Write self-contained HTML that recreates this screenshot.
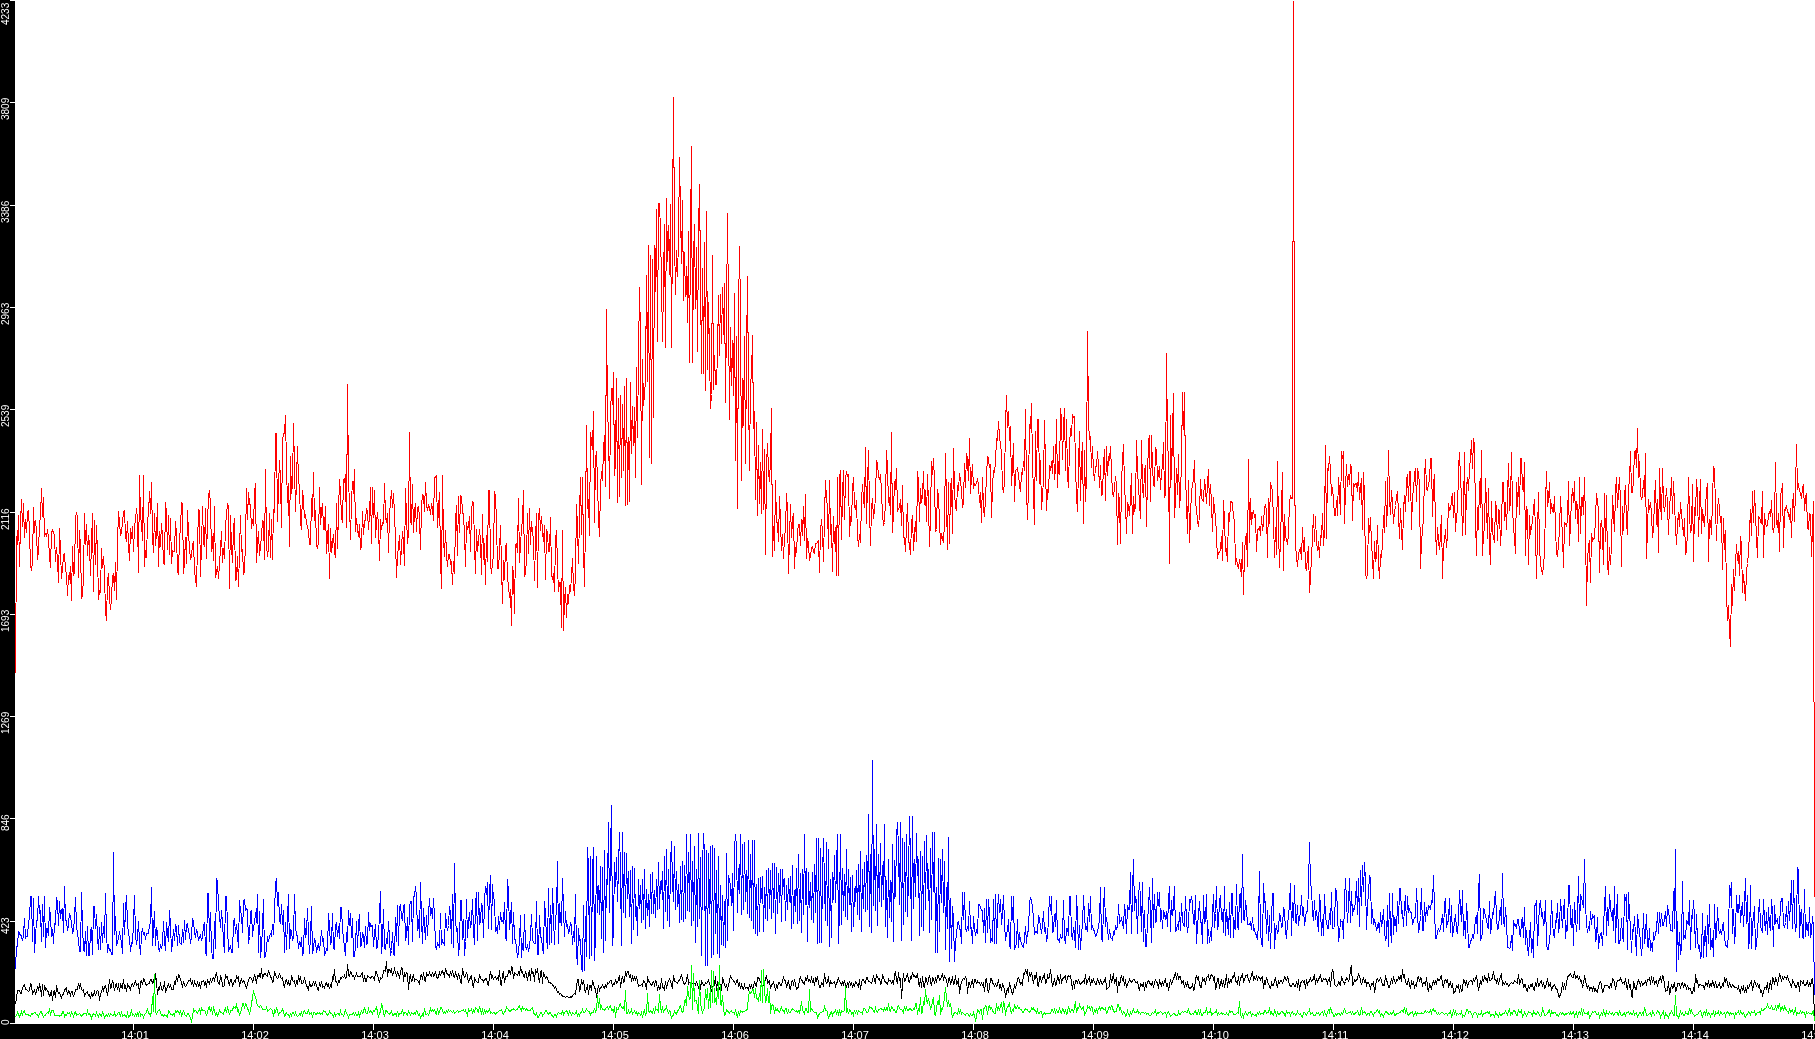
<!DOCTYPE html>
<html><head><meta charset="utf-8"><title>chart</title>
<style>
html,body{margin:0;padding:0;background:#fff;}
body{width:1815px;height:1039px;position:relative;overflow:hidden;font-family:"Liberation Sans",sans-serif;}
#left{position:absolute;left:0;top:0;width:15px;height:1039px;background:#000;}
#bottom{position:absolute;left:0;top:1024px;width:1815px;height:15px;background:#000;}
.yt{position:absolute;left:10px;width:5px;height:1px;background:#fff;}
.xt{position:absolute;top:1024px;width:1px;height:6px;background:#fff;}
.yl{position:absolute;left:0;width:0;height:0;color:#fff;font-size:10px;line-height:10px;white-space:nowrap;}
.yl span{will-change:transform;position:absolute;left:0;top:0;transform-origin:0 0;transform:rotate(-90deg);display:block;}
.xl{will-change:transform;position:absolute;top:1030px;width:40px;text-align:center;color:#fff;font-size:11px;line-height:11px;white-space:nowrap;}
</style></head><body>
<div id="left"></div><div id="bottom"></div>
<svg width="1800" height="1024" viewBox="15 0 1800 1024" shape-rendering="crispEdges" style="position:absolute;left:15px;top:0">
<polyline fill="none" stroke="#ff0000" stroke-width="1" points="15.5,673.5 16.5,536.5 17.5,544.5 18.5,515.4 19.5,566.5 20.5,524.3 21.5,499.1 22.5,527.0 23.5,503.1 24.5,538.4 25.5,519.2 26.5,532.6 27.5,512.9 28.5,509.7 29.5,531.7 30.5,564.9 31.5,570.5 32.5,561.7 33.5,507.2 34.5,533.4 35.5,519.6 36.5,531.3 37.5,559.7 38.5,550.4 39.5,523.9 40.5,517.0 41.5,488.3 42.5,516.5 43.5,497.2 44.5,537.3 45.5,533.2 46.5,536.9 47.5,528.7 48.5,539.3 49.5,556.2 50.5,567.8 51.5,531.4 52.5,530.2 53.5,532.7 54.5,535.8 55.5,562.4 56.5,546.8 57.5,560.2 58.5,582.7 59.5,528.2 60.5,551.1 61.5,578.6 62.5,567.8 63.5,556.4 64.5,552.7 65.5,570.5 66.5,573.9 67.5,595.7 68.5,575.5 69.5,579.7 70.5,565.6 71.5,601.0 72.5,546.3 73.5,576.4 74.5,571.6 75.5,518.1 76.5,512.6 77.5,517.0 78.5,578.2 79.5,530.1 80.5,547.6 81.5,597.5 82.5,595.7 83.5,577.0 84.5,512.6 85.5,545.1 86.5,524.0 87.5,556.1 88.5,535.1 89.5,544.5 90.5,576.4 91.5,542.9 92.5,512.6 93.5,592.1 94.5,520.5 95.5,565.0 96.5,524.7 97.5,552.8 98.5,600.2 99.5,590.8 100.5,593.0 101.5,548.4 102.5,567.9 103.5,555.6 104.5,574.2 105.5,611.1 106.5,621.2 107.5,580.7 108.5,573.2 109.5,598.1 110.5,609.7 111.5,598.9 112.5,576.0 113.5,574.0 114.5,591.0 115.5,562.1 116.5,600.2 117.5,544.1 118.5,510.7 119.5,522.2 120.5,534.9 121.5,533.7 122.5,521.0 123.5,512.4 124.5,509.9 125.5,536.2 126.5,542.1 127.5,520.7 128.5,544.2 129.5,561.1 130.5,528.5 131.5,538.5 132.5,525.8 133.5,552.4 134.5,525.7 135.5,519.8 136.5,507.7 137.5,519.2 138.5,573.2 139.5,475.4 140.5,516.6 141.5,523.5 142.5,540.7 143.5,475.4 144.5,566.9 145.5,549.6 146.5,558.4 147.5,521.6 148.5,513.0 149.5,491.4 150.5,514.2 151.5,481.6 152.5,536.9 153.5,553.3 154.5,513.2 155.5,546.4 156.5,532.7 157.5,503.1 158.5,566.5 159.5,531.2 160.5,546.9 161.5,522.7 162.5,536.0 163.5,563.1 164.5,563.9 165.5,501.8 166.5,513.3 167.5,549.5 168.5,514.8 169.5,554.5 170.5,518.4 171.5,563.8 172.5,550.8 173.5,551.6 174.5,551.9 175.5,520.8 176.5,534.6 177.5,571.3 178.5,574.6 179.5,536.0 180.5,529.9 181.5,501.8 182.5,504.4 183.5,574.2 184.5,562.2 185.5,537.0 186.5,563.6 187.5,509.9 188.5,533.7 189.5,547.4 190.5,559.9 191.5,556.8 192.5,544.2 193.5,542.4 194.5,570.5 195.5,579.6 196.5,586.7 197.5,545.8 198.5,509.7 199.5,510.3 200.5,576.6 201.5,545.9 202.5,505.8 203.5,542.7 204.5,546.8 205.5,508.3 206.5,558.6 207.5,521.9 208.5,495.9 209.5,490.5 210.5,504.4 211.5,552.2 212.5,535.9 213.5,561.1 214.5,505.7 215.5,578.0 216.5,572.6 217.5,565.9 218.5,578.6 219.5,563.8 220.5,548.6 221.5,531.4 222.5,563.4 223.5,547.6 224.5,558.8 225.5,525.2 226.5,515.8 227.5,503.1 228.5,506.8 229.5,588.9 230.5,514.7 231.5,546.8 232.5,562.5 233.5,528.0 234.5,518.3 235.5,581.2 236.5,578.0 237.5,556.2 238.5,586.7 239.5,551.1 240.5,515.3 241.5,552.4 242.5,549.0 243.5,574.9 244.5,570.8 245.5,542.2 246.5,488.3 247.5,519.7 248.5,492.0 249.5,503.2 250.5,505.6 251.5,529.1 252.5,519.0 253.5,525.9 254.5,494.3 255.5,482.9 256.5,563.0 257.5,543.5 258.5,531.4 259.5,555.9 260.5,546.2 261.5,536.9 262.5,520.0 263.5,522.8 264.5,559.7 265.5,469.4 266.5,543.6 267.5,557.3 268.5,546.3 269.5,513.1 270.5,557.6 271.5,519.4 272.5,559.7 273.5,508.9 274.5,513.2 275.5,433.1 276.5,433.1 277.5,521.7 278.5,487.5 279.5,459.8 280.5,478.6 281.5,528.2 282.5,439.8 283.5,433.5 284.5,433.6 285.5,415.5 286.5,466.0 287.5,503.1 288.5,482.7 289.5,547.1 290.5,456.2 291.5,494.4 292.5,483.7 293.5,423.1 294.5,466.2 295.5,512.1 296.5,479.2 297.5,446.5 298.5,480.4 299.5,486.4 300.5,521.9 301.5,530.1 302.5,489.6 303.5,500.1 304.5,518.4 305.5,514.1 306.5,524.4 307.5,526.3 308.5,531.3 309.5,544.4 310.5,544.9 311.5,497.7 312.5,516.9 313.5,472.1 314.5,520.8 315.5,510.5 316.5,544.4 317.5,549.0 318.5,541.8 319.5,487.0 320.5,525.2 321.5,510.9 322.5,502.8 323.5,529.0 324.5,529.4 325.5,505.8 326.5,553.5 327.5,535.1 328.5,524.3 329.5,578.6 330.5,527.9 331.5,553.2 332.5,543.1 333.5,533.7 334.5,552.0 335.5,558.4 336.5,503.0 337.5,548.5 338.5,512.6 339.5,478.9 340.5,493.1 341.5,516.9 342.5,522.9 343.5,478.9 344.5,481.4 345.5,474.4 346.5,528.3 347.5,384.5 348.5,482.5 349.5,502.2 350.5,539.5 351.5,500.3 352.5,481.5 353.5,494.4 354.5,468.9 355.5,532.1 356.5,517.6 357.5,529.4 358.5,537.3 359.5,524.5 360.5,550.3 361.5,545.2 362.5,511.2 363.5,535.1 364.5,521.5 365.5,519.8 366.5,508.0 367.5,511.8 368.5,530.0 369.5,515.2 370.5,487.0 371.5,543.6 372.5,487.0 373.5,518.3 374.5,490.3 375.5,538.2 376.5,523.0 377.5,511.7 378.5,525.8 379.5,561.1 380.5,519.5 381.5,529.8 382.5,521.7 383.5,524.3 384.5,482.9 385.5,516.8 386.5,523.2 387.5,513.2 388.5,553.0 389.5,514.0 390.5,502.8 391.5,489.7 392.5,507.7 393.5,492.8 394.5,514.6 395.5,538.8 396.5,578.1 397.5,556.1 398.5,546.9 399.5,534.8 400.5,565.0 401.5,546.8 402.5,531.4 403.5,542.0 404.5,565.6 405.5,487.7 406.5,515.7 407.5,543.6 408.5,532.2 409.5,432.5 410.5,520.5 411.5,524.9 412.5,483.7 413.5,533.3 414.5,510.8 415.5,503.4 416.5,532.1 417.5,507.2 418.5,506.8 419.5,517.1 420.5,550.3 421.5,506.1 422.5,493.7 423.5,496.4 424.5,511.7 425.5,481.7 426.5,504.1 427.5,511.1 428.5,504.2 429.5,507.6 430.5,515.0 431.5,502.6 432.5,509.4 433.5,520.7 434.5,477.5 435.5,477.9 436.5,474.8 437.5,528.3 438.5,507.7 439.5,492.0 440.5,558.5 441.5,589.4 442.5,474.8 443.5,539.9 444.5,556.8 445.5,530.1 446.5,554.0 447.5,567.1 448.5,554.2 449.5,554.6 450.5,563.6 451.5,561.4 452.5,585.4 453.5,560.6 454.5,573.8 455.5,522.3 456.5,504.6 457.5,555.7 458.5,495.6 459.5,532.9 460.5,495.6 461.5,496.8 462.5,511.5 463.5,515.3 464.5,533.3 465.5,566.5 466.5,522.1 467.5,530.1 468.5,526.6 469.5,516.4 470.5,551.6 471.5,510.4 472.5,501.8 473.5,502.1 474.5,545.2 475.5,574.4 476.5,529.2 477.5,552.1 478.5,541.1 479.5,529.0 480.5,540.4 481.5,574.6 482.5,513.9 483.5,559.8 484.5,543.4 485.5,585.4 486.5,534.7 487.5,561.9 488.5,490.5 489.5,490.5 490.5,564.8 491.5,573.9 492.5,562.1 493.5,556.7 494.5,490.7 495.5,496.4 496.5,521.4 497.5,568.5 498.5,568.3 499.5,551.9 500.5,524.6 501.5,564.6 502.5,604.2 503.5,559.9 504.5,579.7 505.5,545.9 506.5,543.6 507.5,578.4 508.5,584.9 509.5,597.8 510.5,589.0 511.5,626.3 512.5,565.9 513.5,573.3 514.5,614.2 515.5,545.3 516.5,544.0 517.5,552.8 518.5,498.5 519.5,562.8 520.5,544.7 521.5,528.7 522.5,520.5 523.5,489.7 524.5,575.9 525.5,574.4 526.5,557.7 527.5,512.6 528.5,553.6 529.5,508.5 530.5,544.7 531.5,521.3 532.5,532.8 533.5,539.4 534.5,581.3 535.5,540.7 536.5,513.0 537.5,588.0 538.5,516.9 539.5,508.5 540.5,531.1 541.5,516.3 542.5,531.3 543.5,541.8 544.5,525.2 545.5,580.4 546.5,529.5 547.5,532.4 548.5,551.9 549.5,551.7 550.5,517.4 551.5,574.4 552.5,580.0 553.5,572.6 554.5,592.1 555.5,540.1 556.5,529.6 557.5,565.1 558.5,592.3 559.5,582.5 560.5,582.1 561.5,627.7 562.5,529.6 563.5,631.2 564.5,600.6 565.5,586.7 566.5,617.7 567.5,594.4 568.5,604.3 569.5,584.8 570.5,592.2 571.5,575.3 572.5,558.4 573.5,586.5 574.5,595.7 575.5,573.7 576.5,504.4 577.5,527.4 578.5,563.7 579.5,513.8 580.5,477.5 581.5,534.8 582.5,477.5 583.5,549.8 584.5,586.7 585.5,519.8 586.5,425.5 587.5,508.6 588.5,498.9 589.5,535.5 590.5,432.2 591.5,441.0 592.5,450.3 593.5,410.7 594.5,523.4 595.5,459.4 596.5,450.7 597.5,482.6 598.5,519.1 599.5,536.5 600.5,487.1 601.5,471.2 602.5,480.6 603.5,448.9 604.5,435.5 605.5,486.5 606.5,309.5 607.5,420.7 608.5,423.0 609.5,498.5 610.5,416.2 611.5,387.6 612.5,404.6 613.5,372.5 614.5,475.6 615.5,463.7 616.5,378.5 617.5,502.5 618.5,397.9 619.5,496.9 620.5,395.2 621.5,477.9 622.5,404.1 623.5,470.8 624.5,385.9 625.5,505.5 626.5,378.5 627.5,505.2 628.5,436.9 629.5,501.9 630.5,381.7 631.5,453.5 632.5,406.0 633.5,446.3 634.5,407.1 635.5,477.7 636.5,367.1 637.5,438.3 638.5,356.0 639.5,287.5 640.5,335.5 641.5,484.5 642.5,358.7 643.5,406.2 644.5,395.0 645.5,379.9 646.5,275.1 647.5,382.1 648.5,245.5 649.5,457.8 650.5,255.2 651.5,463.5 652.5,259.0 653.5,417.5 654.5,245.5 655.5,291.5 656.5,209.5 657.5,341.5 658.5,203.5 659.5,203.5 660.5,230.8 661.5,281.3 662.5,341.5 663.5,283.8 664.5,224.5 665.5,347.5 666.5,198.5 667.5,262.0 668.5,225.0 669.5,275.4 670.5,204.4 671.5,347.5 672.5,223.9 673.5,97.5 674.5,235.5 675.5,294.8 676.5,250.0 677.5,277.3 678.5,239.0 679.5,157.5 680.5,212.6 681.5,263.5 682.5,200.5 683.5,300.5 684.5,252.1 685.5,296.8 686.5,265.9 687.5,323.0 688.5,231.3 689.5,362.5 690.5,233.4 691.5,146.5 692.5,362.5 693.5,259.6 694.5,223.6 695.5,308.5 696.5,246.8 697.5,351.6 698.5,232.5 699.5,184.5 700.5,276.0 701.5,373.5 702.5,268.0 703.5,373.5 704.5,241.7 705.5,391.2 706.5,211.5 707.5,369.5 708.5,302.0 709.5,351.8 710.5,408.5 711.5,394.5 712.5,255.5 713.5,389.9 714.5,354.9 715.5,384.5 716.5,384.5 717.5,353.5 718.5,295.3 719.5,355.7 720.5,294.5 721.5,344.3 722.5,286.8 723.5,335.0 724.5,283.5 725.5,402.8 726.5,317.4 727.5,213.5 728.5,311.9 729.5,419.5 730.5,327.3 731.5,385.6 732.5,339.6 733.5,396.1 734.5,293.5 735.5,460.5 736.5,335.8 737.5,508.5 738.5,312.5 739.5,246.5 740.5,309.5 741.5,480.5 742.5,378.1 743.5,425.5 744.5,336.4 745.5,464.2 746.5,355.8 747.5,276.5 748.5,387.5 749.5,470.5 750.5,381.5 751.5,375.7 752.5,335.5 753.5,429.1 754.5,411.4 755.5,500.2 756.5,422.5 757.5,515.5 758.5,444.7 759.5,504.1 760.5,462.5 761.5,514.4 762.5,428.9 763.5,510.2 764.5,448.9 765.5,554.6 766.5,465.5 767.5,443.0 768.5,470.8 769.5,481.9 770.5,459.2 771.5,408.5 772.5,556.5 773.5,526.4 774.5,551.0 775.5,480.5 776.5,522.5 777.5,522.8 778.5,542.3 779.5,496.2 780.5,521.6 781.5,551.1 782.5,533.8 783.5,558.5 784.5,536.6 785.5,530.6 786.5,493.5 787.5,510.8 788.5,573.5 789.5,538.2 790.5,504.5 791.5,537.8 792.5,520.3 793.5,512.6 794.5,568.5 795.5,547.2 796.5,552.5 797.5,532.5 798.5,524.5 799.5,524.9 800.5,546.4 801.5,518.7 802.5,535.6 803.5,506.5 804.5,540.7 805.5,494.5 806.5,559.1 807.5,538.1 808.5,544.5 809.5,560.5 810.5,555.4 811.5,548.7 812.5,545.7 813.5,552.0 814.5,553.4 815.5,543.5 816.5,543.9 817.5,541.6 818.5,541.0 819.5,572.5 820.5,530.6 821.5,519.3 822.5,531.4 823.5,561.8 824.5,515.5 825.5,480.5 826.5,499.4 827.5,507.2 828.5,549.2 829.5,480.5 830.5,535.0 831.5,524.1 832.5,571.5 833.5,516.3 834.5,544.1 835.5,527.1 836.5,575.5 837.5,477.5 838.5,575.5 839.5,477.7 840.5,470.5 841.5,539.9 842.5,494.6 843.5,470.5 844.5,520.2 845.5,478.1 846.5,471.5 847.5,476.2 848.5,475.2 849.5,536.5 850.5,516.3 851.5,521.7 852.5,488.7 853.5,476.7 854.5,505.5 855.5,509.6 856.5,500.3 857.5,535.3 858.5,546.5 859.5,534.1 860.5,543.1 861.5,499.4 862.5,484.5 863.5,499.1 864.5,507.9 865.5,447.5 866.5,524.2 867.5,484.1 868.5,450.5 869.5,509.2 870.5,545.5 871.5,508.9 872.5,498.1 873.5,519.3 874.5,509.9 875.5,497.4 876.5,460.5 877.5,464.4 878.5,475.8 879.5,479.7 880.5,474.0 881.5,491.3 882.5,515.4 883.5,524.5 884.5,522.5 885.5,500.0 886.5,450.5 887.5,468.9 888.5,502.5 889.5,496.9 890.5,514.5 891.5,432.5 892.5,532.5 893.5,512.4 894.5,480.7 895.5,490.1 896.5,468.5 897.5,511.1 898.5,509.5 899.5,507.1 900.5,499.1 901.5,525.9 902.5,485.0 903.5,537.5 904.5,538.0 905.5,551.8 906.5,525.1 907.5,503.0 908.5,539.1 909.5,545.7 910.5,554.8 911.5,522.6 912.5,515.3 913.5,551.0 914.5,533.5 915.5,521.1 916.5,542.1 917.5,471.5 918.5,481.4 919.5,521.7 920.5,487.7 921.5,502.5 922.5,495.6 923.5,471.5 924.5,505.3 925.5,489.9 926.5,522.1 927.5,473.6 928.5,503.8 929.5,546.9 930.5,515.8 931.5,461.5 932.5,475.0 933.5,458.5 934.5,480.4 935.5,532.3 936.5,529.5 937.5,488.7 938.5,496.7 939.5,520.0 940.5,545.3 941.5,532.6 942.5,538.6 943.5,542.7 944.5,521.7 945.5,452.6 946.5,503.4 947.5,550.2 948.5,482.3 949.5,543.6 950.5,488.9 951.5,478.2 952.5,533.6 953.5,447.8 954.5,492.3 955.5,506.7 956.5,511.1 957.5,485.0 958.5,490.6 959.5,472.8 960.5,481.1 961.5,490.7 962.5,507.5 963.5,502.8 964.5,462.6 965.5,487.7 966.5,452.6 967.5,460.0 968.5,481.3 969.5,437.8 970.5,493.6 971.5,477.8 972.5,464.5 973.5,488.5 974.5,484.0 975.5,485.4 976.5,483.1 977.5,478.4 978.5,486.2 979.5,502.6 980.5,491.6 981.5,523.2 982.5,476.9 983.5,508.7 984.5,516.9 985.5,497.7 986.5,477.5 987.5,455.8 988.5,459.0 989.5,468.4 990.5,464.5 991.5,518.4 992.5,486.0 993.5,470.4 994.5,471.8 995.5,462.5 996.5,438.7 997.5,440.4 998.5,420.8 999.5,436.5 1000.5,444.6 1001.5,453.4 1002.5,486.6 1003.5,493.0 1004.5,480.9 1005.5,424.7 1006.5,394.7 1007.5,427.9 1008.5,410.8 1009.5,441.3 1010.5,425.8 1011.5,486.1 1012.5,467.9 1013.5,443.1 1014.5,502.2 1015.5,471.0 1016.5,469.6 1017.5,468.2 1018.5,475.2 1019.5,484.9 1020.5,492.2 1021.5,472.0 1022.5,474.7 1023.5,460.7 1024.5,470.5 1025.5,409.4 1026.5,489.4 1027.5,519.7 1028.5,487.2 1029.5,423.6 1030.5,428.5 1031.5,403.3 1032.5,462.4 1033.5,493.5 1034.5,525.1 1035.5,431.4 1036.5,481.1 1037.5,419.4 1038.5,419.4 1039.5,484.1 1040.5,459.8 1041.5,509.7 1042.5,495.0 1043.5,480.4 1044.5,420.2 1045.5,465.9 1046.5,510.6 1047.5,489.3 1048.5,493.3 1049.5,465.2 1050.5,470.6 1051.5,461.5 1052.5,473.9 1053.5,446.4 1054.5,480.1 1055.5,468.6 1056.5,419.0 1057.5,488.2 1058.5,460.6 1059.5,474.6 1060.5,407.9 1061.5,420.5 1062.5,459.7 1063.5,426.0 1064.5,407.9 1065.5,471.1 1066.5,419.5 1067.5,476.4 1068.5,488.2 1069.5,446.6 1070.5,428.3 1071.5,435.6 1072.5,414.1 1073.5,417.4 1074.5,416.5 1075.5,467.2 1076.5,495.8 1077.5,512.2 1078.5,466.7 1079.5,430.8 1080.5,501.0 1081.5,460.8 1082.5,441.7 1083.5,524.0 1084.5,450.3 1085.5,502.2 1086.5,477.5 1087.5,331.3 1088.5,420.8 1089.5,440.0 1090.5,436.3 1091.5,467.5 1092.5,446.0 1093.5,471.3 1094.5,480.9 1095.5,466.7 1096.5,466.1 1097.5,451.5 1098.5,465.6 1099.5,487.8 1100.5,464.6 1101.5,494.9 1102.5,493.9 1103.5,465.3 1104.5,448.6 1105.5,500.9 1106.5,445.9 1107.5,475.5 1108.5,456.2 1109.5,461.3 1110.5,445.9 1111.5,471.5 1112.5,492.9 1113.5,497.3 1114.5,487.8 1115.5,475.6 1116.5,485.6 1117.5,545.3 1118.5,492.6 1119.5,500.3 1120.5,544.0 1121.5,482.4 1122.5,459.9 1123.5,443.7 1124.5,486.0 1125.5,502.8 1126.5,534.0 1127.5,502.2 1128.5,506.7 1129.5,515.7 1130.5,497.4 1131.5,472.8 1132.5,534.0 1133.5,496.5 1134.5,511.5 1135.5,505.7 1136.5,439.7 1137.5,470.0 1138.5,487.5 1139.5,501.9 1140.5,519.2 1141.5,439.7 1142.5,487.5 1143.5,498.0 1144.5,470.6 1145.5,465.4 1146.5,526.5 1147.5,476.2 1148.5,441.0 1149.5,434.8 1150.5,502.2 1151.5,434.8 1152.5,467.4 1153.5,484.2 1154.5,486.8 1155.5,447.6 1156.5,449.9 1157.5,480.5 1158.5,473.7 1159.5,465.9 1160.5,489.8 1161.5,472.2 1162.5,466.2 1163.5,441.8 1164.5,497.6 1165.5,494.8 1166.5,353.4 1167.5,444.0 1168.5,457.6 1169.5,564.2 1170.5,415.5 1171.5,480.3 1172.5,434.0 1173.5,393.4 1174.5,518.4 1175.5,498.2 1176.5,468.3 1177.5,494.5 1178.5,454.5 1179.5,508.4 1180.5,495.2 1181.5,459.6 1182.5,392.5 1183.5,429.7 1184.5,392.5 1185.5,476.7 1186.5,503.1 1187.5,534.1 1188.5,479.9 1189.5,543.4 1190.5,518.5 1191.5,488.7 1192.5,486.9 1193.5,477.6 1194.5,459.9 1195.5,504.3 1196.5,507.8 1197.5,520.9 1198.5,526.9 1199.5,514.7 1200.5,479.4 1201.5,498.0 1202.5,500.5 1203.5,501.5 1204.5,479.4 1205.5,488.8 1206.5,504.3 1207.5,482.4 1208.5,469.4 1209.5,505.6 1210.5,484.3 1211.5,503.5 1212.5,532.0 1213.5,496.6 1214.5,510.1 1215.5,515.5 1216.5,536.2 1217.5,558.8 1218.5,552.2 1219.5,552.8 1220.5,549.3 1221.5,536.1 1222.5,561.1 1223.5,500.4 1224.5,520.1 1225.5,550.8 1226.5,549.1 1227.5,561.6 1228.5,513.1 1229.5,522.1 1230.5,501.8 1231.5,501.8 1232.5,503.4 1233.5,517.7 1234.5,520.1 1235.5,564.8 1236.5,558.0 1237.5,565.4 1238.5,568.5 1239.5,558.9 1240.5,566.3 1241.5,577.0 1242.5,542.2 1243.5,595.3 1244.5,551.1 1245.5,539.5 1246.5,532.8 1247.5,567.0 1248.5,458.7 1249.5,542.7 1250.5,498.5 1251.5,524.9 1252.5,513.4 1253.5,510.3 1254.5,517.6 1255.5,514.3 1256.5,551.7 1257.5,530.3 1258.5,528.6 1259.5,526.9 1260.5,535.7 1261.5,516.1 1262.5,531.4 1263.5,522.6 1264.5,508.5 1265.5,504.3 1266.5,510.6 1267.5,557.6 1268.5,497.8 1269.5,523.9 1270.5,482.4 1271.5,486.7 1272.5,491.9 1273.5,520.7 1274.5,557.6 1275.5,526.6 1276.5,554.6 1277.5,460.6 1278.5,529.0 1279.5,567.6 1280.5,538.2 1281.5,507.6 1282.5,472.4 1283.5,571.1 1284.5,513.6 1285.5,537.4 1286.5,539.1 1287.5,544.9 1288.5,532.8 1289.5,502.7 1290.5,495.1 1291.5,498.5 1292.5,498.5 1292.5,241.5 1293.5,241.5 1293.5,0.5 1293.5,241.5 1294.5,241.5 1294.5,505.5 1295.5,505.5 1295.5,545.5 1296.5,556.7 1297.5,566.5 1298.5,554.7 1299.5,550.1 1300.5,548.2 1301.5,560.2 1302.5,527.4 1303.5,552.1 1304.5,536.7 1305.5,566.5 1306.5,570.9 1307.5,556.2 1308.5,546.4 1309.5,593.4 1310.5,576.5 1311.5,558.9 1312.5,535.7 1313.5,513.9 1314.5,542.0 1315.5,516.2 1316.5,541.9 1317.5,550.6 1318.5,540.7 1319.5,558.4 1320.5,535.2 1321.5,537.7 1322.5,512.6 1323.5,546.4 1324.5,529.5 1325.5,444.7 1326.5,539.0 1327.5,468.6 1328.5,470.4 1329.5,456.0 1330.5,471.2 1331.5,496.4 1332.5,487.5 1333.5,499.6 1334.5,515.3 1335.5,515.3 1336.5,500.1 1337.5,515.5 1338.5,476.7 1339.5,492.8 1340.5,514.6 1341.5,451.4 1342.5,458.9 1343.5,451.4 1344.5,524.2 1345.5,487.8 1346.5,464.1 1347.5,486.9 1348.5,474.3 1349.5,484.6 1350.5,464.1 1351.5,468.7 1352.5,520.7 1353.5,483.8 1354.5,485.6 1355.5,483.3 1356.5,483.7 1357.5,491.6 1358.5,472.1 1359.5,499.6 1360.5,486.9 1361.5,478.3 1362.5,530.1 1363.5,472.1 1364.5,497.6 1365.5,571.9 1366.5,579.4 1367.5,572.3 1368.5,518.3 1369.5,533.1 1370.5,517.4 1371.5,543.4 1372.5,558.4 1373.5,579.4 1374.5,540.6 1375.5,562.2 1376.5,555.3 1377.5,525.1 1378.5,562.2 1379.5,579.4 1380.5,555.4 1381.5,557.3 1382.5,542.6 1383.5,515.3 1384.5,533.0 1385.5,481.0 1386.5,527.4 1387.5,504.5 1388.5,450.0 1389.5,498.6 1390.5,514.8 1391.5,490.2 1392.5,503.8 1393.5,523.7 1394.5,511.7 1395.5,505.5 1396.5,497.5 1397.5,491.0 1398.5,515.3 1399.5,538.5 1400.5,508.3 1401.5,530.8 1402.5,549.5 1403.5,508.8 1404.5,495.0 1405.5,512.0 1406.5,480.7 1407.5,474.1 1408.5,501.7 1409.5,471.3 1410.5,471.3 1411.5,530.1 1412.5,494.7 1413.5,490.7 1414.5,474.0 1415.5,468.1 1416.5,502.4 1417.5,468.1 1418.5,474.5 1419.5,483.1 1420.5,569.2 1421.5,540.1 1422.5,532.7 1423.5,515.9 1424.5,477.0 1425.5,458.7 1426.5,489.1 1427.5,490.0 1428.5,483.5 1429.5,480.1 1430.5,458.8 1431.5,458.7 1432.5,517.4 1433.5,485.3 1434.5,473.7 1435.5,528.7 1436.5,554.7 1437.5,526.6 1438.5,541.1 1439.5,550.3 1440.5,533.6 1441.5,515.3 1442.5,578.6 1443.5,545.7 1444.5,540.9 1445.5,529.5 1446.5,548.2 1447.5,533.6 1448.5,503.1 1449.5,510.3 1450.5,509.7 1451.5,500.3 1452.5,492.8 1453.5,518.4 1454.5,492.4 1455.5,531.6 1456.5,514.9 1457.5,511.4 1458.5,469.0 1459.5,452.5 1460.5,479.3 1461.5,495.4 1462.5,535.5 1463.5,511.2 1464.5,452.5 1465.5,534.7 1466.5,487.2 1467.5,477.5 1468.5,490.9 1469.5,467.6 1470.5,458.7 1471.5,440.5 1472.5,469.1 1473.5,438.5 1474.5,445.5 1475.5,518.1 1476.5,556.2 1477.5,506.8 1478.5,530.1 1479.5,481.1 1480.5,507.7 1481.5,450.0 1482.5,556.2 1483.5,532.9 1484.5,529.3 1485.5,478.3 1486.5,505.4 1487.5,539.2 1488.5,488.4 1489.5,544.2 1490.5,565.1 1491.5,501.2 1492.5,534.0 1493.5,535.6 1494.5,543.4 1495.5,500.8 1496.5,508.4 1497.5,540.7 1498.5,509.2 1499.5,511.3 1500.5,546.1 1501.5,527.0 1502.5,482.7 1503.5,482.7 1504.5,520.7 1505.5,502.5 1506.5,530.2 1507.5,497.6 1508.5,463.0 1509.5,510.7 1510.5,501.4 1511.5,452.5 1512.5,507.1 1513.5,527.8 1514.5,537.5 1515.5,554.2 1516.5,482.1 1517.5,506.8 1518.5,477.2 1519.5,515.1 1520.5,458.5 1521.5,458.5 1522.5,488.5 1523.5,491.9 1524.5,461.9 1525.5,556.2 1526.5,506.0 1527.5,510.9 1528.5,565.0 1529.5,515.3 1530.5,534.7 1531.5,525.7 1532.5,523.0 1533.5,508.5 1534.5,499.4 1535.5,531.9 1536.5,579.0 1537.5,532.5 1538.5,492.2 1539.5,544.9 1540.5,566.3 1541.5,568.1 1542.5,575.0 1543.5,565.0 1544.5,554.1 1545.5,504.4 1546.5,470.6 1547.5,507.0 1548.5,499.3 1549.5,482.2 1550.5,513.7 1551.5,503.5 1552.5,510.7 1553.5,513.1 1554.5,496.4 1555.5,527.6 1556.5,554.5 1557.5,556.1 1558.5,543.8 1559.5,531.3 1560.5,496.2 1561.5,516.7 1562.5,536.4 1563.5,567.7 1564.5,522.8 1565.5,523.6 1566.5,526.1 1567.5,519.7 1568.5,481.4 1569.5,546.1 1570.5,523.3 1571.5,500.2 1572.5,488.1 1573.5,502.8 1574.5,481.4 1575.5,519.0 1576.5,501.5 1577.5,505.6 1578.5,542.0 1579.5,476.8 1580.5,533.8 1581.5,498.0 1582.5,497.7 1583.5,515.1 1584.5,476.8 1585.5,523.2 1586.5,606.2 1587.5,560.7 1588.5,546.6 1589.5,540.0 1590.5,583.1 1591.5,533.4 1592.5,540.7 1593.5,538.9 1594.5,538.3 1595.5,518.3 1596.5,493.5 1597.5,502.8 1598.5,508.5 1599.5,573.1 1600.5,526.1 1601.5,519.7 1602.5,534.6 1603.5,564.5 1604.5,493.5 1605.5,541.6 1606.5,495.4 1607.5,564.2 1608.5,575.2 1609.5,547.5 1610.5,564.7 1611.5,544.6 1612.5,495.4 1613.5,514.3 1614.5,532.4 1615.5,490.9 1616.5,477.3 1617.5,507.7 1618.5,492.0 1619.5,477.3 1620.5,502.2 1621.5,567.1 1622.5,505.7 1623.5,531.0 1624.5,495.1 1625.5,484.6 1626.5,523.8 1627.5,534.8 1628.5,487.5 1629.5,481.4 1630.5,451.2 1631.5,492.1 1632.5,492.2 1633.5,480.0 1634.5,451.2 1635.5,450.3 1636.5,468.1 1637.5,428.3 1638.5,477.8 1639.5,460.6 1640.5,493.3 1641.5,499.7 1642.5,495.8 1643.5,480.2 1644.5,497.1 1645.5,453.1 1646.5,559.0 1647.5,528.5 1648.5,499.4 1649.5,509.9 1650.5,502.1 1651.5,513.6 1652.5,538.1 1653.5,528.2 1654.5,500.8 1655.5,480.2 1656.5,525.2 1657.5,498.8 1658.5,552.8 1659.5,467.9 1660.5,504.5 1661.5,520.1 1662.5,467.9 1663.5,503.7 1664.5,512.0 1665.5,501.5 1666.5,488.3 1667.5,504.1 1668.5,535.3 1669.5,503.7 1670.5,498.2 1671.5,477.3 1672.5,513.5 1673.5,480.7 1674.5,503.8 1675.5,526.3 1676.5,544.7 1677.5,524.0 1678.5,512.3 1679.5,527.2 1680.5,502.4 1681.5,514.2 1682.5,524.5 1683.5,535.8 1684.5,518.5 1685.5,554.7 1686.5,550.6 1687.5,532.5 1688.5,476.8 1689.5,515.3 1690.5,533.0 1691.5,529.8 1692.5,484.2 1693.5,562.3 1694.5,507.2 1695.5,516.0 1696.5,478.7 1697.5,494.6 1698.5,536.7 1699.5,503.8 1700.5,478.7 1701.5,533.6 1702.5,509.4 1703.5,518.7 1704.5,526.6 1705.5,506.3 1706.5,491.8 1707.5,483.3 1708.5,561.5 1709.5,518.8 1710.5,521.1 1711.5,534.6 1712.5,498.9 1713.5,466.6 1714.5,468.7 1715.5,507.3 1716.5,540.5 1717.5,509.4 1718.5,498.4 1719.5,509.5 1720.5,522.5 1721.5,516.5 1722.5,569.5 1723.5,518.5 1724.5,549.5 1725.5,530.5 1726.5,593.5 1727.5,620.5 1728.5,605.5 1729.5,631.5 1730.5,646.5 1731.5,584.5 1732.5,605.5 1733.5,569.5 1734.5,590.5 1735.5,563.5 1736.5,544.5 1737.5,560.5 1738.5,551.5 1739.5,575.5 1740.5,536.5 1741.5,545.5 1742.5,592.5 1743.5,574.5 1744.5,587.5 1745.5,600.5 1746.5,570.5 1747.5,563.5 1748.5,553.5 1749.5,530.5 1750.5,509.5 1751.5,535.5 1752.5,491.5 1753.5,522.5 1754.5,490.5 1755.5,515.3 1756.5,536.5 1757.5,558.2 1758.5,516.6 1759.5,517.8 1760.5,520.8 1761.5,524.4 1762.5,490.8 1763.5,558.2 1764.5,513.5 1765.5,524.3 1766.5,526.1 1767.5,526.0 1768.5,514.7 1769.5,511.1 1770.5,517.2 1771.5,500.3 1772.5,526.2 1773.5,532.6 1774.5,523.5 1775.5,462.5 1776.5,521.5 1777.5,527.8 1778.5,513.2 1779.5,552.0 1780.5,493.9 1781.5,492.1 1782.5,483.5 1783.5,548.0 1784.5,509.6 1785.5,510.1 1786.5,505.2 1787.5,511.7 1788.5,513.1 1789.5,520.3 1790.5,507.9 1791.5,538.0 1792.5,503.9 1793.5,493.5 1794.5,522.3 1795.5,491.3 1796.5,444.4 1797.5,490.3 1798.5,483.5 1799.5,491.9 1800.5,492.3 1801.5,498.8 1802.5,487.4 1803.5,484.4 1804.5,511.0 1805.5,496.6 1806.5,493.5 1807.5,528.1 1808.5,529.0 1809.5,513.4 1810.5,514.5 1811.5,556.9 1812.5,528.0 1813.5,501.5 1814.5,897.5"/>
<polyline fill="none" stroke="#0000ff" stroke-width="1" points="15.5,969.5 16.5,946.2 17.5,946.3 18.5,930.6 19.5,934.2 20.5,934.9 21.5,935.9 22.5,941.4 23.5,934.3 24.5,918.0 25.5,938.0 26.5,936.5 27.5,936.8 28.5,921.2 29.5,918.9 30.5,896.4 31.5,896.4 32.5,941.5 33.5,898.3 34.5,953.0 35.5,936.6 36.5,920.6 37.5,920.7 38.5,896.4 39.5,913.6 40.5,910.0 41.5,942.3 42.5,903.6 43.5,937.4 44.5,896.4 45.5,947.7 46.5,928.3 47.5,929.1 48.5,936.0 49.5,907.2 50.5,916.8 51.5,937.2 52.5,928.9 53.5,943.8 54.5,923.5 55.5,924.0 56.5,897.2 57.5,902.1 58.5,926.4 59.5,900.7 60.5,918.6 61.5,909.7 62.5,908.9 63.5,932.8 64.5,885.7 65.5,920.3 66.5,920.8 67.5,931.1 68.5,924.6 69.5,912.6 70.5,916.6 71.5,923.5 72.5,932.8 73.5,931.4 74.5,917.0 75.5,896.7 76.5,926.5 77.5,933.6 78.5,939.7 79.5,951.6 80.5,951.7 81.5,891.6 82.5,925.9 83.5,949.6 84.5,951.4 85.5,931.4 86.5,955.6 87.5,926.2 88.5,954.9 89.5,955.7 90.5,930.7 91.5,927.2 92.5,954.7 93.5,906.7 94.5,906.7 95.5,929.2 96.5,914.0 97.5,937.8 98.5,950.3 99.5,927.3 100.5,950.4 101.5,922.2 102.5,943.2 103.5,926.3 104.5,938.2 105.5,893.2 106.5,932.7 107.5,953.4 108.5,944.3 109.5,950.6 110.5,949.4 111.5,954.3 112.5,954.4 113.5,852.5 114.5,934.5 115.5,915.9 116.5,944.7 117.5,943.2 118.5,936.4 119.5,933.1 120.5,936.8 121.5,943.0 122.5,953.6 123.5,903.2 124.5,934.8 125.5,910.2 126.5,894.6 127.5,923.7 128.5,934.4 129.5,937.7 130.5,951.7 131.5,942.9 132.5,943.6 133.5,923.5 134.5,894.6 135.5,935.2 136.5,944.7 137.5,938.0 138.5,920.7 139.5,942.5 140.5,955.2 141.5,934.5 142.5,928.1 143.5,935.2 144.5,931.9 145.5,939.6 146.5,933.2 147.5,933.8 148.5,933.6 149.5,925.2 150.5,922.4 151.5,887.5 152.5,946.3 153.5,930.5 154.5,910.7 155.5,945.5 156.5,927.2 157.5,932.2 158.5,948.6 159.5,951.7 160.5,945.1 161.5,947.5 162.5,944.2 163.5,920.7 164.5,940.1 165.5,951.4 166.5,921.7 167.5,934.3 168.5,942.3 169.5,910.5 170.5,924.2 171.5,951.7 172.5,943.1 173.5,929.5 174.5,940.6 175.5,925.2 176.5,927.2 177.5,946.3 178.5,925.5 179.5,942.5 180.5,943.5 181.5,944.7 182.5,929.1 183.5,943.1 184.5,920.2 185.5,939.6 186.5,925.5 187.5,923.7 188.5,931.5 189.5,934.4 190.5,943.6 191.5,937.0 192.5,918.0 193.5,922.3 194.5,931.4 195.5,937.5 196.5,929.1 197.5,933.1 198.5,940.9 199.5,937.7 200.5,935.3 201.5,940.8 202.5,936.4 203.5,926.5 204.5,922.0 205.5,950.8 206.5,956.1 207.5,893.2 208.5,893.2 209.5,941.8 210.5,912.2 211.5,948.3 212.5,958.4 213.5,958.4 214.5,920.9 215.5,949.4 216.5,877.6 217.5,883.2 218.5,905.0 219.5,916.5 220.5,928.0 221.5,910.5 222.5,922.6 223.5,941.6 224.5,952.5 225.5,896.4 226.5,896.4 227.5,925.6 228.5,952.1 229.5,948.7 230.5,945.2 231.5,952.1 232.5,952.5 233.5,922.4 234.5,918.1 235.5,934.3 236.5,923.6 237.5,935.6 238.5,947.7 239.5,899.7 240.5,911.3 241.5,914.1 242.5,933.1 243.5,901.6 244.5,899.7 245.5,911.1 246.5,908.6 247.5,909.2 248.5,943.6 249.5,936.5 250.5,913.0 251.5,909.7 252.5,936.6 253.5,926.3 254.5,923.6 255.5,912.3 256.5,923.2 257.5,893.7 258.5,953.4 259.5,911.2 260.5,958.4 261.5,946.6 262.5,927.9 263.5,898.6 264.5,958.4 265.5,955.7 266.5,947.6 267.5,936.4 268.5,942.2 269.5,936.7 270.5,932.7 271.5,936.5 272.5,924.0 273.5,934.8 274.5,912.6 275.5,883.7 276.5,877.6 277.5,906.1 278.5,892.4 279.5,920.5 280.5,923.7 281.5,904.2 282.5,924.8 283.5,910.5 284.5,953.0 285.5,922.4 286.5,950.4 287.5,919.8 288.5,893.7 289.5,949.4 290.5,929.9 291.5,930.8 292.5,940.4 293.5,937.7 294.5,893.7 295.5,927.6 296.5,934.7 297.5,936.3 298.5,949.1 299.5,941.3 300.5,947.4 301.5,937.0 302.5,956.3 303.5,952.4 304.5,918.0 305.5,937.8 306.5,932.7 307.5,908.0 308.5,934.5 309.5,954.4 310.5,936.8 311.5,905.9 312.5,954.2 313.5,947.6 314.5,939.3 315.5,940.7 316.5,952.8 317.5,946.5 318.5,944.6 319.5,950.6 320.5,941.3 321.5,930.1 322.5,941.1 323.5,939.0 324.5,954.9 325.5,953.0 326.5,948.4 327.5,949.9 328.5,913.4 329.5,926.8 330.5,944.9 331.5,940.8 332.5,913.4 333.5,948.6 334.5,949.4 335.5,925.0 336.5,923.4 337.5,936.8 338.5,926.1 339.5,939.0 340.5,907.2 341.5,907.2 342.5,929.9 343.5,937.3 344.5,947.7 345.5,955.5 346.5,931.7 347.5,942.0 348.5,909.9 349.5,925.9 350.5,913.4 351.5,937.6 352.5,917.9 353.5,956.3 354.5,956.3 355.5,946.0 356.5,921.3 357.5,947.7 358.5,925.1 359.5,914.0 360.5,947.1 361.5,945.0 362.5,931.8 363.5,935.5 364.5,947.6 365.5,925.7 366.5,945.3 367.5,942.8 368.5,912.1 369.5,931.0 370.5,924.2 371.5,926.6 372.5,926.0 373.5,947.1 374.5,933.8 375.5,924.3 376.5,949.2 377.5,945.8 378.5,933.9 379.5,915.9 380.5,891.1 381.5,954.4 382.5,939.8 383.5,909.2 384.5,947.6 385.5,950.2 386.5,938.0 387.5,943.8 388.5,920.7 389.5,938.5 390.5,956.3 391.5,950.5 392.5,931.9 393.5,953.4 394.5,956.3 395.5,917.4 396.5,942.1 397.5,904.8 398.5,946.3 399.5,907.7 400.5,903.7 401.5,918.5 402.5,920.1 403.5,906.5 404.5,903.7 405.5,940.9 406.5,935.2 407.5,916.8 408.5,945.0 409.5,907.1 410.5,901.9 411.5,901.5 412.5,942.4 413.5,896.4 414.5,896.4 415.5,886.4 416.5,897.7 417.5,931.4 418.5,919.2 419.5,938.4 420.5,882.2 421.5,918.2 422.5,944.4 423.5,908.0 424.5,925.8 425.5,939.6 426.5,915.5 427.5,935.7 428.5,914.3 429.5,897.8 430.5,916.1 431.5,908.3 432.5,918.9 433.5,897.8 434.5,916.5 435.5,945.4 436.5,949.5 437.5,941.9 438.5,945.5 439.5,947.0 440.5,912.6 441.5,945.1 442.5,940.3 443.5,943.5 444.5,944.9 445.5,913.4 446.5,924.6 447.5,930.7 448.5,925.5 449.5,906.1 450.5,913.3 451.5,943.9 452.5,894.3 453.5,947.7 454.5,863.3 455.5,920.7 456.5,930.4 457.5,928.1 458.5,956.3 459.5,944.3 460.5,900.5 461.5,900.5 462.5,940.1 463.5,919.3 464.5,956.3 465.5,941.5 466.5,899.1 467.5,938.0 468.5,921.2 469.5,912.5 470.5,928.3 471.5,922.1 472.5,899.1 473.5,930.0 474.5,945.0 475.5,904.8 476.5,891.6 477.5,940.9 478.5,891.6 479.5,923.5 480.5,921.6 481.5,902.6 482.5,908.1 483.5,937.9 484.5,901.1 485.5,886.3 486.5,894.6 487.5,881.6 488.5,929.4 489.5,892.4 490.5,875.4 491.5,930.1 492.5,884.3 493.5,898.4 494.5,900.2 495.5,931.7 496.5,927.5 497.5,934.2 498.5,916.0 499.5,929.5 500.5,912.1 501.5,921.5 502.5,920.6 503.5,923.6 504.5,901.8 505.5,937.7 506.5,940.5 507.5,879.5 508.5,891.8 509.5,930.1 510.5,919.3 511.5,901.9 512.5,943.6 513.5,911.7 514.5,937.4 515.5,941.5 516.5,947.1 517.5,958.4 518.5,951.8 519.5,941.3 520.5,915.2 521.5,958.4 522.5,942.7 523.5,950.7 524.5,914.0 525.5,945.7 526.5,949.7 527.5,944.0 528.5,951.7 529.5,946.9 530.5,935.7 531.5,914.0 532.5,940.1 533.5,942.4 534.5,943.8 535.5,943.6 536.5,901.3 537.5,954.4 538.5,954.4 539.5,915.1 540.5,937.8 541.5,938.0 542.5,947.0 543.5,954.1 544.5,901.3 545.5,915.2 546.5,937.6 547.5,949.0 548.5,888.4 549.5,945.0 550.5,905.4 551.5,943.0 552.5,888.4 553.5,916.2 554.5,945.3 555.5,916.4 556.5,914.0 557.5,861.4 558.5,943.6 559.5,903.0 560.5,920.1 561.5,925.5 562.5,878.4 563.5,908.2 564.5,936.7 565.5,911.3 566.5,927.3 567.5,924.5 568.5,933.0 569.5,930.6 570.5,922.2 571.5,925.4 572.5,945.0 573.5,931.1 574.5,941.6 575.5,893.7 576.5,952.1 577.5,965.3 578.5,928.4 579.5,940.4 580.5,939.9 581.5,969.1 582.5,971.4 583.5,905.2 584.5,970.6 585.5,916.0 586.5,957.3 587.5,847.4 588.5,868.5 589.5,958.7 590.5,856.0 591.5,955.9 592.5,871.6 593.5,847.4 594.5,960.6 595.5,936.1 596.5,855.8 597.5,912.6 598.5,885.5 599.5,914.5 600.5,866.0 601.5,938.7 602.5,867.1 603.5,953.0 604.5,850.1 605.5,941.1 606.5,879.4 607.5,884.9 608.5,821.8 609.5,912.5 610.5,852.4 611.5,805.3 612.5,946.3 613.5,929.5 614.5,861.9 615.5,886.6 616.5,857.2 617.5,901.9 618.5,867.3 619.5,831.8 620.5,870.9 621.5,946.3 622.5,831.8 623.5,912.9 624.5,851.8 625.5,918.4 626.5,852.8 627.5,899.4 628.5,870.7 629.5,917.3 630.5,869.8 631.5,943.6 632.5,866.4 633.5,930.2 634.5,868.3 635.5,917.3 636.5,905.7 637.5,935.5 638.5,878.7 639.5,908.9 640.5,884.7 641.5,923.1 642.5,878.8 643.5,920.0 644.5,869.5 645.5,928.8 646.5,889.5 647.5,916.3 648.5,893.9 649.5,926.6 650.5,874.5 651.5,913.7 652.5,871.6 653.5,914.3 654.5,889.8 655.5,917.5 656.5,879.3 657.5,910.1 658.5,862.5 659.5,908.5 660.5,881.3 661.5,890.2 662.5,870.9 663.5,928.8 664.5,856.0 665.5,912.2 666.5,849.2 667.5,920.6 668.5,869.3 669.5,927.4 670.5,862.6 671.5,841.2 672.5,881.6 673.5,902.0 674.5,846.0 675.5,909.9 676.5,871.2 677.5,906.9 678.5,884.2 679.5,923.4 680.5,865.7 681.5,919.8 682.5,861.4 683.5,922.4 684.5,864.7 685.5,919.2 686.5,834.4 687.5,910.5 688.5,851.9 689.5,912.4 690.5,834.4 691.5,925.6 692.5,861.4 693.5,920.5 694.5,846.4 695.5,942.8 696.5,869.5 697.5,927.1 698.5,832.6 699.5,918.8 700.5,856.9 701.5,955.7 702.5,867.7 703.5,832.6 704.5,854.8 705.5,966.0 706.5,850.5 707.5,966.0 708.5,853.3 709.5,914.1 710.5,846.5 711.5,958.4 712.5,844.7 713.5,954.5 714.5,847.8 715.5,933.6 716.5,869.8 717.5,953.9 718.5,856.0 719.5,958.4 720.5,885.1 721.5,944.6 722.5,895.0 723.5,946.3 724.5,901.5 725.5,947.7 726.5,853.2 727.5,941.3 728.5,875.3 729.5,880.7 730.5,884.9 731.5,905.6 732.5,873.1 733.5,931.4 734.5,847.4 735.5,834.4 736.5,847.4 737.5,913.0 738.5,868.1 739.5,894.4 740.5,834.4 741.5,915.3 742.5,843.8 743.5,910.0 744.5,842.3 745.5,902.4 746.5,869.7 747.5,913.7 748.5,840.4 749.5,917.7 750.5,854.1 751.5,921.2 752.5,840.4 753.5,928.8 754.5,840.4 755.5,933.9 756.5,883.9 757.5,935.5 758.5,877.6 759.5,932.3 760.5,876.6 761.5,899.0 762.5,876.2 763.5,931.5 764.5,887.0 765.5,919.1 766.5,870.0 767.5,920.7 768.5,868.5 769.5,908.8 770.5,870.0 771.5,918.9 772.5,863.3 773.5,913.4 774.5,863.3 775.5,934.2 776.5,866.8 777.5,913.8 778.5,873.3 779.5,902.5 780.5,868.9 781.5,922.1 782.5,868.7 783.5,887.3 784.5,877.9 785.5,921.2 786.5,885.4 787.5,910.1 788.5,878.0 789.5,902.0 790.5,876.3 791.5,928.8 792.5,864.9 793.5,924.3 794.5,890.4 795.5,912.0 796.5,867.6 797.5,923.8 798.5,854.1 799.5,921.0 800.5,873.5 801.5,932.8 802.5,868.9 803.5,914.8 804.5,833.6 805.5,904.6 806.5,867.9 807.5,941.7 808.5,871.7 809.5,907.7 810.5,882.3 811.5,919.9 812.5,871.9 813.5,922.5 814.5,864.1 815.5,913.4 816.5,837.7 817.5,943.6 818.5,837.8 819.5,942.6 820.5,847.9 821.5,943.2 822.5,877.6 823.5,837.7 824.5,887.1 825.5,920.9 826.5,842.5 827.5,926.3 828.5,849.2 829.5,947.1 830.5,879.4 831.5,938.0 832.5,872.0 833.5,899.9 834.5,854.9 835.5,903.4 836.5,866.8 837.5,833.6 838.5,943.6 839.5,910.4 840.5,833.6 841.5,925.4 842.5,868.2 843.5,911.2 844.5,873.8 845.5,917.3 846.5,849.3 847.5,919.9 848.5,869.0 849.5,905.2 850.5,876.8 851.5,931.5 852.5,875.0 853.5,926.8 854.5,888.4 855.5,902.2 856.5,870.3 857.5,914.7 858.5,863.6 859.5,920.2 860.5,850.6 861.5,931.5 862.5,868.9 863.5,908.9 864.5,861.7 865.5,911.9 866.5,855.1 867.5,909.6 868.5,814.5 869.5,927.0 870.5,853.9 871.5,932.8 872.5,760.3 873.5,905.8 874.5,848.9 875.5,910.5 876.5,824.5 877.5,926.1 878.5,853.8 879.5,901.7 880.5,843.5 881.5,907.3 882.5,865.4 883.5,900.0 884.5,824.5 885.5,926.8 886.5,879.9 887.5,938.0 888.5,858.9 889.5,918.2 890.5,880.0 891.5,922.3 892.5,844.4 893.5,941.7 894.5,860.3 895.5,897.2 896.5,837.4 897.5,821.8 898.5,848.5 899.5,904.7 900.5,821.8 901.5,940.9 902.5,838.1 903.5,924.8 904.5,841.6 905.5,911.9 906.5,834.4 907.5,916.9 908.5,876.9 909.5,816.4 910.5,857.4 911.5,940.9 912.5,816.4 913.5,909.4 914.5,858.9 915.5,896.5 916.5,833.1 917.5,876.4 918.5,858.8 919.5,935.5 920.5,850.8 921.5,927.2 922.5,855.9 923.5,930.6 924.5,841.3 925.5,909.9 926.5,835.0 927.5,889.0 928.5,869.4 929.5,932.8 930.5,847.9 931.5,920.4 932.5,831.8 933.5,891.8 934.5,831.8 935.5,953.0 936.5,886.6 937.5,953.0 938.5,858.3 939.5,931.6 940.5,859.0 941.5,902.6 942.5,849.3 943.5,912.9 944.5,860.9 945.5,950.0 946.5,887.0 947.5,928.7 948.5,836.6 949.5,961.9 950.5,898.3 951.5,949.4 952.5,906.5 953.5,919.3 954.5,961.9 955.5,941.8 956.5,935.0 957.5,923.4 958.5,921.9 959.5,928.6 960.5,930.4 961.5,943.6 962.5,891.6 963.5,919.9 964.5,891.6 965.5,927.0 966.5,932.0 967.5,925.8 968.5,930.7 969.5,901.3 970.5,928.4 971.5,927.6 972.5,943.6 973.5,916.2 974.5,930.0 975.5,934.2 976.5,930.9 977.5,933.9 978.5,904.5 979.5,904.7 980.5,907.3 981.5,910.0 982.5,910.3 983.5,932.9 984.5,908.2 985.5,942.8 986.5,898.6 987.5,933.4 988.5,899.1 989.5,914.5 990.5,942.9 991.5,939.3 992.5,941.5 993.5,898.6 994.5,943.6 995.5,893.7 996.5,943.6 997.5,913.1 998.5,893.7 999.5,912.9 1000.5,899.4 1001.5,924.9 1002.5,914.4 1003.5,895.2 1004.5,923.5 1005.5,940.6 1006.5,933.4 1007.5,930.7 1008.5,918.9 1009.5,943.8 1010.5,949.0 1011.5,895.6 1012.5,919.8 1013.5,895.6 1014.5,949.5 1015.5,947.3 1016.5,943.2 1017.5,919.4 1018.5,947.7 1019.5,932.2 1020.5,941.1 1021.5,943.2 1022.5,946.0 1023.5,947.3 1024.5,938.2 1025.5,926.4 1026.5,943.6 1027.5,931.6 1028.5,931.6 1029.5,902.0 1030.5,897.3 1031.5,901.3 1032.5,905.7 1033.5,919.0 1034.5,934.6 1035.5,931.6 1036.5,931.8 1037.5,934.2 1038.5,914.7 1039.5,920.1 1040.5,925.4 1041.5,933.6 1042.5,924.6 1043.5,911.3 1044.5,931.9 1045.5,927.0 1046.5,941.7 1047.5,937.2 1048.5,918.3 1049.5,896.4 1050.5,911.2 1051.5,896.4 1052.5,933.3 1053.5,930.3 1054.5,914.0 1055.5,927.0 1056.5,900.5 1057.5,938.9 1058.5,939.8 1059.5,941.7 1060.5,935.4 1061.5,938.1 1062.5,937.6 1063.5,900.5 1064.5,938.0 1065.5,943.6 1066.5,928.3 1067.5,928.4 1068.5,935.5 1069.5,896.4 1070.5,896.4 1071.5,935.0 1072.5,939.7 1073.5,926.7 1074.5,933.3 1075.5,947.5 1076.5,895.1 1077.5,916.6 1078.5,950.4 1079.5,925.0 1080.5,950.4 1081.5,932.5 1082.5,925.3 1083.5,895.1 1084.5,915.1 1085.5,930.0 1086.5,927.7 1087.5,931.5 1088.5,902.9 1089.5,922.4 1090.5,896.4 1091.5,929.5 1092.5,926.5 1093.5,929.6 1094.5,931.1 1095.5,936.3 1096.5,934.5 1097.5,930.7 1098.5,926.9 1099.5,919.4 1100.5,887.5 1101.5,939.4 1102.5,940.9 1103.5,909.1 1104.5,887.5 1105.5,926.6 1106.5,916.7 1107.5,927.4 1108.5,939.5 1109.5,929.4 1110.5,937.0 1111.5,938.5 1112.5,940.1 1113.5,932.4 1114.5,934.1 1115.5,925.4 1116.5,928.8 1117.5,927.7 1118.5,904.0 1119.5,922.8 1120.5,921.0 1121.5,918.6 1122.5,922.8 1123.5,928.6 1124.5,904.0 1125.5,914.0 1126.5,934.2 1127.5,904.9 1128.5,909.6 1129.5,909.5 1130.5,871.6 1131.5,934.0 1132.5,892.0 1133.5,859.5 1134.5,911.1 1135.5,895.6 1136.5,902.9 1137.5,934.3 1138.5,898.8 1139.5,881.6 1140.5,898.9 1141.5,932.2 1142.5,881.6 1143.5,941.7 1144.5,909.9 1145.5,946.3 1146.5,946.3 1147.5,921.6 1148.5,907.1 1149.5,886.9 1150.5,912.1 1151.5,942.9 1152.5,877.6 1153.5,927.8 1154.5,893.8 1155.5,922.1 1156.5,920.9 1157.5,892.4 1158.5,906.2 1159.5,892.4 1160.5,922.0 1161.5,909.9 1162.5,928.8 1163.5,910.9 1164.5,912.9 1165.5,920.0 1166.5,910.8 1167.5,927.2 1168.5,899.3 1169.5,886.5 1170.5,931.5 1171.5,900.4 1172.5,916.3 1173.5,905.8 1174.5,886.5 1175.5,932.3 1176.5,929.2 1177.5,924.4 1178.5,929.5 1179.5,912.5 1180.5,930.9 1181.5,903.2 1182.5,920.6 1183.5,924.6 1184.5,926.1 1185.5,896.4 1186.5,921.5 1187.5,932.8 1188.5,924.4 1189.5,899.4 1190.5,902.5 1191.5,896.4 1192.5,903.6 1193.5,923.2 1194.5,924.5 1195.5,895.1 1196.5,944.4 1197.5,924.7 1198.5,915.2 1199.5,900.7 1200.5,920.5 1201.5,924.3 1202.5,944.4 1203.5,895.1 1204.5,924.3 1205.5,920.6 1206.5,894.3 1207.5,943.6 1208.5,929.4 1209.5,943.1 1210.5,930.8 1211.5,941.2 1212.5,914.4 1213.5,894.3 1214.5,928.4 1215.5,913.5 1216.5,885.7 1217.5,930.4 1218.5,923.1 1219.5,901.7 1220.5,895.2 1221.5,919.7 1222.5,911.8 1223.5,932.8 1224.5,885.7 1225.5,936.3 1226.5,909.3 1227.5,922.6 1228.5,934.9 1229.5,901.8 1230.5,937.8 1231.5,893.7 1232.5,893.7 1233.5,938.2 1234.5,919.7 1235.5,930.0 1236.5,883.7 1237.5,925.9 1238.5,930.1 1239.5,894.8 1240.5,893.4 1241.5,922.7 1242.5,853.9 1243.5,918.7 1244.5,920.4 1245.5,900.5 1246.5,910.0 1247.5,924.4 1248.5,924.1 1249.5,924.6 1250.5,922.5 1251.5,930.0 1252.5,916.6 1253.5,930.1 1254.5,928.8 1255.5,934.7 1256.5,934.7 1257.5,940.4 1258.5,922.3 1259.5,870.8 1260.5,934.1 1261.5,942.2 1262.5,947.1 1263.5,883.2 1264.5,902.7 1265.5,902.0 1266.5,934.1 1267.5,910.0 1268.5,940.8 1269.5,914.6 1270.5,949.0 1271.5,918.8 1272.5,893.2 1273.5,893.2 1274.5,949.0 1275.5,932.2 1276.5,924.6 1277.5,934.2 1278.5,929.0 1279.5,913.2 1280.5,917.5 1281.5,927.2 1282.5,926.6 1283.5,907.2 1284.5,911.3 1285.5,930.3 1286.5,939.0 1287.5,921.5 1288.5,917.9 1289.5,902.7 1290.5,883.5 1291.5,936.2 1292.5,901.7 1293.5,920.5 1294.5,885.1 1295.5,921.6 1296.5,924.0 1297.5,904.6 1298.5,925.6 1299.5,916.1 1300.5,914.4 1301.5,895.1 1302.5,916.2 1303.5,907.0 1304.5,926.1 1305.5,917.9 1306.5,911.3 1307.5,911.7 1308.5,888.1 1309.5,841.7 1310.5,884.2 1311.5,888.1 1312.5,912.6 1313.5,920.7 1314.5,900.5 1315.5,920.1 1316.5,910.4 1317.5,921.4 1318.5,932.0 1319.5,893.7 1320.5,906.7 1321.5,936.1 1322.5,919.2 1323.5,936.3 1324.5,893.7 1325.5,917.3 1326.5,921.7 1327.5,928.8 1328.5,927.9 1329.5,912.7 1330.5,925.0 1331.5,892.4 1332.5,928.8 1333.5,928.2 1334.5,927.5 1335.5,888.4 1336.5,891.1 1337.5,909.7 1338.5,941.7 1339.5,935.2 1340.5,920.1 1341.5,921.6 1342.5,921.6 1343.5,938.8 1344.5,900.7 1345.5,877.6 1346.5,901.3 1347.5,923.2 1348.5,904.2 1349.5,877.6 1350.5,923.4 1351.5,890.9 1352.5,915.5 1353.5,908.4 1354.5,909.6 1355.5,901.3 1356.5,880.9 1357.5,915.4 1358.5,877.6 1359.5,926.6 1360.5,870.0 1361.5,906.2 1362.5,864.9 1363.5,892.4 1364.5,861.9 1365.5,881.1 1366.5,930.1 1367.5,903.6 1368.5,894.2 1369.5,874.9 1370.5,878.4 1371.5,924.3 1372.5,909.5 1373.5,925.3 1374.5,920.4 1375.5,922.8 1376.5,931.3 1377.5,926.2 1378.5,922.3 1379.5,933.4 1380.5,912.3 1381.5,926.5 1382.5,921.6 1383.5,908.6 1384.5,930.3 1385.5,941.3 1386.5,937.6 1387.5,904.9 1388.5,947.1 1389.5,892.9 1390.5,928.0 1391.5,943.4 1392.5,892.9 1393.5,935.1 1394.5,917.4 1395.5,920.2 1396.5,931.5 1397.5,901.2 1398.5,923.6 1399.5,888.9 1400.5,888.9 1401.5,913.2 1402.5,911.3 1403.5,926.6 1404.5,907.0 1405.5,895.1 1406.5,926.1 1407.5,896.3 1408.5,913.1 1409.5,909.2 1410.5,912.2 1411.5,912.9 1412.5,925.2 1413.5,920.2 1414.5,917.1 1415.5,917.3 1416.5,888.4 1417.5,911.6 1418.5,933.4 1419.5,926.4 1420.5,915.5 1421.5,888.4 1422.5,930.8 1423.5,930.6 1424.5,901.6 1425.5,922.0 1426.5,907.2 1427.5,915.8 1428.5,905.0 1429.5,907.5 1430.5,909.1 1431.5,900.7 1432.5,902.8 1433.5,874.9 1434.5,908.3 1435.5,938.0 1436.5,938.2 1437.5,932.1 1438.5,928.3 1439.5,932.3 1440.5,927.4 1441.5,922.8 1442.5,914.4 1443.5,931.6 1444.5,904.5 1445.5,897.8 1446.5,928.4 1447.5,921.1 1448.5,921.2 1449.5,897.8 1450.5,932.5 1451.5,905.5 1452.5,937.4 1453.5,928.9 1454.5,923.1 1455.5,913.7 1456.5,930.2 1457.5,933.8 1458.5,918.0 1459.5,890.5 1460.5,906.6 1461.5,922.3 1462.5,890.5 1463.5,936.3 1464.5,921.2 1465.5,939.0 1466.5,903.2 1467.5,919.0 1468.5,947.1 1469.5,947.1 1470.5,940.5 1471.5,940.9 1472.5,934.6 1473.5,938.6 1474.5,929.2 1475.5,920.0 1476.5,914.8 1477.5,933.5 1478.5,891.3 1479.5,874.1 1480.5,940.1 1481.5,938.3 1482.5,932.0 1483.5,908.1 1484.5,910.7 1485.5,916.8 1486.5,918.9 1487.5,927.0 1488.5,928.5 1489.5,901.3 1490.5,934.2 1491.5,925.8 1492.5,912.5 1493.5,914.7 1494.5,901.3 1495.5,891.3 1496.5,918.3 1497.5,929.6 1498.5,928.2 1499.5,913.4 1500.5,907.0 1501.5,924.7 1502.5,872.7 1503.5,921.2 1504.5,926.8 1505.5,907.2 1506.5,922.4 1507.5,946.9 1508.5,947.8 1509.5,948.2 1510.5,947.7 1511.5,935.1 1512.5,951.2 1513.5,919.7 1514.5,925.8 1515.5,924.8 1516.5,928.6 1517.5,919.8 1518.5,919.8 1519.5,931.6 1520.5,937.2 1521.5,922.0 1522.5,916.6 1523.5,938.2 1524.5,906.7 1525.5,945.3 1526.5,929.9 1527.5,945.5 1528.5,956.3 1529.5,938.9 1530.5,922.5 1531.5,953.1 1532.5,938.6 1533.5,957.9 1534.5,905.9 1535.5,905.7 1536.5,900.5 1537.5,946.3 1538.5,926.0 1539.5,904.9 1540.5,900.5 1541.5,915.5 1542.5,913.4 1543.5,924.7 1544.5,922.9 1545.5,899.7 1546.5,943.6 1547.5,949.8 1548.5,949.3 1549.5,939.4 1550.5,930.5 1551.5,899.7 1552.5,921.8 1553.5,934.7 1554.5,937.7 1555.5,920.8 1556.5,922.1 1557.5,903.4 1558.5,932.8 1559.5,925.3 1560.5,898.6 1561.5,913.1 1562.5,927.8 1563.5,911.0 1564.5,898.6 1565.5,939.0 1566.5,924.6 1567.5,931.0 1568.5,885.7 1569.5,885.7 1570.5,922.6 1571.5,927.8 1572.5,908.7 1573.5,946.3 1574.5,901.9 1575.5,918.2 1576.5,931.5 1577.5,918.0 1578.5,875.7 1579.5,929.5 1580.5,893.8 1581.5,897.8 1582.5,901.4 1583.5,908.4 1584.5,859.5 1585.5,904.5 1586.5,923.9 1587.5,932.8 1588.5,925.6 1589.5,931.0 1590.5,910.7 1591.5,925.1 1592.5,914.1 1593.5,917.1 1594.5,915.8 1595.5,942.3 1596.5,938.2 1597.5,917.1 1598.5,949.0 1599.5,937.9 1600.5,933.5 1601.5,932.9 1602.5,945.5 1603.5,926.1 1604.5,907.2 1605.5,886.5 1606.5,935.5 1607.5,907.1 1608.5,925.5 1609.5,893.7 1610.5,906.3 1611.5,917.1 1612.5,910.0 1613.5,931.0 1614.5,886.5 1615.5,942.8 1616.5,914.7 1617.5,893.7 1618.5,943.6 1619.5,943.0 1620.5,938.3 1621.5,918.4 1622.5,936.3 1623.5,941.8 1624.5,893.7 1625.5,900.8 1626.5,894.1 1627.5,949.5 1628.5,892.4 1629.5,914.9 1630.5,927.5 1631.5,953.0 1632.5,929.1 1633.5,932.1 1634.5,915.9 1635.5,936.2 1636.5,956.3 1637.5,914.5 1638.5,923.0 1639.5,932.7 1640.5,941.7 1641.5,956.3 1642.5,943.1 1643.5,912.6 1644.5,943.8 1645.5,935.0 1646.5,914.0 1647.5,945.0 1648.5,947.8 1649.5,927.6 1650.5,951.1 1651.5,943.3 1652.5,951.7 1653.5,931.6 1654.5,940.4 1655.5,931.4 1656.5,931.5 1657.5,911.8 1658.5,934.2 1659.5,911.8 1660.5,926.7 1661.5,912.8 1662.5,925.6 1663.5,925.4 1664.5,919.0 1665.5,911.0 1666.5,927.3 1667.5,905.1 1668.5,912.7 1669.5,917.1 1670.5,930.6 1671.5,930.6 1672.5,931.5 1673.5,891.1 1674.5,929.2 1675.5,849.3 1676.5,971.9 1677.5,921.5 1678.5,960.3 1679.5,932.2 1680.5,954.5 1681.5,948.4 1682.5,881.1 1683.5,940.0 1684.5,936.1 1685.5,938.9 1686.5,921.1 1687.5,922.1 1688.5,925.1 1689.5,899.9 1690.5,950.4 1691.5,915.5 1692.5,918.9 1693.5,899.9 1694.5,918.1 1695.5,948.2 1696.5,914.1 1697.5,940.7 1698.5,947.5 1699.5,945.2 1700.5,957.9 1701.5,956.2 1702.5,912.6 1703.5,957.9 1704.5,935.1 1705.5,925.8 1706.5,957.1 1707.5,915.0 1708.5,943.8 1709.5,904.5 1710.5,949.8 1711.5,943.5 1712.5,937.7 1713.5,957.1 1714.5,904.5 1715.5,939.6 1716.5,936.0 1717.5,907.2 1718.5,928.3 1719.5,933.8 1720.5,930.4 1721.5,934.8 1722.5,927.2 1723.5,921.7 1724.5,938.8 1725.5,943.8 1726.5,947.0 1727.5,947.1 1728.5,932.8 1729.5,885.1 1730.5,895.6 1731.5,881.6 1732.5,933.7 1733.5,908.8 1734.5,943.6 1735.5,930.9 1736.5,895.1 1737.5,912.3 1738.5,912.3 1739.5,895.1 1740.5,922.5 1741.5,910.5 1742.5,902.3 1743.5,927.4 1744.5,904.5 1745.5,877.6 1746.5,923.9 1747.5,895.5 1748.5,949.0 1749.5,939.4 1750.5,885.1 1751.5,949.0 1752.5,923.6 1753.5,918.7 1754.5,905.9 1755.5,949.5 1756.5,944.9 1757.5,930.7 1758.5,915.3 1759.5,898.6 1760.5,925.6 1761.5,930.5 1762.5,931.8 1763.5,898.6 1764.5,920.5 1765.5,931.0 1766.5,912.5 1767.5,935.1 1768.5,907.1 1769.5,925.7 1770.5,930.8 1771.5,899.1 1772.5,912.4 1773.5,947.1 1774.5,904.9 1775.5,923.1 1776.5,921.2 1777.5,918.4 1778.5,928.8 1779.5,928.6 1780.5,904.6 1781.5,898.6 1782.5,898.6 1783.5,925.3 1784.5,927.3 1785.5,922.5 1786.5,906.1 1787.5,928.8 1788.5,901.1 1789.5,920.6 1790.5,905.2 1791.5,880.3 1792.5,928.6 1793.5,880.3 1794.5,914.7 1795.5,931.9 1796.5,923.7 1797.5,866.8 1798.5,870.3 1799.5,937.8 1800.5,914.6 1801.5,909.4 1802.5,937.5 1803.5,938.2 1804.5,888.6 1805.5,937.0 1806.5,923.1 1807.5,924.6 1808.5,936.2 1809.5,907.2 1810.5,938.2 1811.5,931.3 1812.5,916.5 1813.5,926.9 1814.5,995.5"/>
<polyline fill="none" stroke="#000000" stroke-width="1" points="15.5,1004.5 16.5,997.9 17.5,991.2 18.5,990.1 19.5,990.5 20.5,993.3 21.5,993.1 22.5,987.7 23.5,985.9 24.5,985.1 25.5,989.7 26.5,989.7 27.5,990.5 28.5,991.7 29.5,989.6 30.5,983.8 31.5,985.3 32.5,994.2 33.5,992.5 34.5,990.1 35.5,994.6 36.5,990.6 37.5,987.6 38.5,990.6 39.5,984.6 40.5,986.7 41.5,997.3 42.5,984.1 43.5,996.2 44.5,984.8 45.5,990.0 46.5,988.7 47.5,990.7 48.5,992.4 49.5,996.6 50.5,995.1 51.5,990.0 52.5,1000.8 53.5,991.5 54.5,990.6 55.5,998.4 56.5,985.4 57.5,990.3 58.5,993.5 59.5,992.9 60.5,995.1 61.5,998.7 62.5,994.2 63.5,994.7 64.5,990.0 65.5,988.8 66.5,987.9 67.5,995.4 68.5,990.8 69.5,992.2 70.5,995.0 71.5,991.9 72.5,992.0 73.5,997.0 74.5,993.8 75.5,989.8 76.5,989.4 77.5,989.6 78.5,982.9 79.5,987.6 80.5,984.5 81.5,989.3 82.5,990.7 83.5,989.4 84.5,995.9 85.5,993.3 86.5,992.2 87.5,992.0 88.5,995.2 89.5,994.8 90.5,999.1 91.5,992.5 92.5,996.0 93.5,994.9 94.5,991.9 95.5,996.1 96.5,991.2 97.5,990.5 98.5,991.7 99.5,1000.5 100.5,994.1 101.5,992.3 102.5,987.6 103.5,990.4 104.5,986.8 105.5,985.5 106.5,989.8 107.5,995.7 108.5,988.4 109.5,979.4 110.5,989.3 111.5,986.7 112.5,979.9 113.5,984.9 114.5,991.4 115.5,984.3 116.5,983.3 117.5,990.1 118.5,983.3 119.5,991.8 120.5,983.6 121.5,986.7 122.5,988.2 123.5,978.6 124.5,988.7 125.5,985.2 126.5,991.7 127.5,983.9 128.5,986.1 129.5,987.2 130.5,989.7 131.5,984.5 132.5,983.3 133.5,985.9 134.5,984.3 135.5,979.6 136.5,985.5 137.5,984.6 138.5,983.6 139.5,993.8 140.5,982.2 141.5,980.7 142.5,984.4 143.5,979.0 144.5,979.5 145.5,984.5 146.5,985.1 147.5,984.2 148.5,983.5 149.5,983.3 150.5,979.5 151.5,979.6 152.5,984.3 153.5,978.9 154.5,985.9 155.5,973.5 156.5,982.2 157.5,994.5 158.5,987.3 159.5,990.2 160.5,982.1 161.5,989.7 162.5,990.6 163.5,987.8 164.5,981.5 165.5,992.3 166.5,990.1 167.5,986.9 168.5,984.3 169.5,988.1 170.5,984.0 171.5,989.6 172.5,989.6 173.5,989.0 174.5,981.9 175.5,983.6 176.5,976.0 177.5,981.9 178.5,975.0 179.5,975.9 180.5,979.5 181.5,982.4 182.5,987.5 183.5,980.8 184.5,985.1 185.5,986.5 186.5,985.1 187.5,982.9 188.5,980.7 189.5,980.6 190.5,978.8 191.5,985.1 192.5,981.9 193.5,986.5 194.5,981.3 195.5,984.1 196.5,985.9 197.5,982.6 198.5,985.7 199.5,982.3 200.5,988.7 201.5,981.9 202.5,981.3 203.5,980.3 204.5,984.0 205.5,980.9 206.5,988.3 207.5,978.7 208.5,982.6 209.5,984.0 210.5,977.9 211.5,983.1 212.5,978.4 213.5,977.8 214.5,980.4 215.5,976.1 216.5,972.1 217.5,980.4 218.5,982.8 219.5,985.3 220.5,975.2 221.5,978.6 222.5,986.1 223.5,986.7 224.5,985.0 225.5,973.6 226.5,977.7 227.5,977.0 228.5,982.3 229.5,984.6 230.5,980.0 231.5,979.9 232.5,986.4 233.5,983.4 234.5,981.0 235.5,982.5 236.5,976.2 237.5,977.9 238.5,976.5 239.5,986.7 240.5,980.6 241.5,979.0 242.5,982.3 243.5,980.6 244.5,981.6 245.5,985.4 246.5,988.8 247.5,984.0 248.5,980.6 249.5,977.1 250.5,977.4 251.5,978.2 252.5,981.4 253.5,979.4 254.5,974.4 255.5,977.6 256.5,983.6 257.5,975.5 258.5,976.7 259.5,974.5 260.5,978.4 261.5,968.3 262.5,978.8 263.5,975.3 264.5,973.9 265.5,973.9 266.5,975.7 267.5,976.7 268.5,969.8 269.5,973.2 270.5,977.3 271.5,977.7 272.5,981.9 273.5,981.0 274.5,972.1 275.5,974.1 276.5,977.5 277.5,978.5 278.5,977.4 279.5,972.7 280.5,976.9 281.5,978.8 282.5,978.1 283.5,984.3 284.5,986.7 285.5,980.8 286.5,979.5 287.5,983.7 288.5,981.5 289.5,985.5 290.5,984.5 291.5,975.0 292.5,979.7 293.5,981.5 294.5,980.5 295.5,987.0 296.5,980.3 297.5,984.8 298.5,974.9 299.5,981.9 300.5,975.6 301.5,983.9 302.5,983.9 303.5,981.6 304.5,978.8 305.5,981.4 306.5,986.7 307.5,986.9 308.5,990.6 309.5,981.5 310.5,986.7 311.5,986.6 312.5,984.4 313.5,981.9 314.5,984.4 315.5,981.1 316.5,986.0 317.5,988.1 318.5,991.1 319.5,982.3 320.5,986.9 321.5,980.8 322.5,987.2 323.5,986.4 324.5,987.8 325.5,984.3 326.5,982.7 327.5,986.1 328.5,984.3 329.5,989.2 330.5,985.0 331.5,986.9 332.5,976.8 333.5,978.8 334.5,969.0 335.5,981.7 336.5,981.2 337.5,984.6 338.5,981.1 339.5,982.2 340.5,977.3 341.5,978.0 342.5,976.5 343.5,977.7 344.5,975.6 345.5,978.1 346.5,977.7 347.5,964.5 348.5,974.1 349.5,977.2 350.5,971.7 351.5,973.0 352.5,976.8 353.5,975.9 354.5,978.4 355.5,975.9 356.5,973.4 357.5,976.5 358.5,976.5 359.5,976.8 360.5,976.3 361.5,973.4 362.5,972.3 363.5,982.4 364.5,975.5 365.5,981.2 366.5,981.0 367.5,975.6 368.5,976.8 369.5,977.4 370.5,978.4 371.5,976.7 372.5,976.5 373.5,977.4 374.5,980.9 375.5,971.8 376.5,971.8 377.5,976.0 378.5,977.7 379.5,983.2 380.5,977.3 381.5,978.4 382.5,977.0 383.5,971.0 384.5,970.7 385.5,971.2 386.5,961.5 387.5,976.9 388.5,970.0 389.5,969.4 390.5,971.4 391.5,969.2 392.5,975.9 393.5,972.9 394.5,969.1 395.5,972.9 396.5,975.7 397.5,971.9 398.5,973.7 399.5,978.7 400.5,972.1 401.5,968.0 402.5,968.8 403.5,981.5 404.5,973.6 405.5,976.1 406.5,972.6 407.5,974.0 408.5,989.5 409.5,978.0 410.5,974.5 411.5,982.4 412.5,979.0 413.5,973.9 414.5,981.3 415.5,979.5 416.5,979.9 417.5,980.2 418.5,981.6 419.5,983.9 420.5,976.1 421.5,974.7 422.5,979.5 423.5,972.0 424.5,980.8 425.5,981.2 426.5,972.4 427.5,975.8 428.5,975.5 429.5,972.5 430.5,975.1 431.5,976.4 432.5,972.1 433.5,976.5 434.5,975.8 435.5,971.1 436.5,976.8 437.5,978.4 438.5,977.5 439.5,971.6 440.5,976.2 441.5,971.5 442.5,970.7 443.5,974.2 444.5,976.3 445.5,967.9 446.5,973.0 447.5,974.0 448.5,974.2 449.5,976.7 450.5,971.5 451.5,975.5 452.5,970.2 453.5,975.5 454.5,977.4 455.5,972.7 456.5,975.0 457.5,978.0 458.5,973.9 459.5,975.9 460.5,982.0 461.5,983.0 462.5,967.7 463.5,974.8 464.5,977.5 465.5,976.5 466.5,972.3 467.5,976.4 468.5,982.7 469.5,978.9 470.5,978.1 471.5,975.0 472.5,983.9 473.5,988.0 474.5,978.2 475.5,979.5 476.5,981.8 477.5,982.3 478.5,982.1 479.5,974.4 480.5,978.2 481.5,979.6 482.5,979.1 483.5,981.8 484.5,980.7 485.5,978.3 486.5,978.7 487.5,983.6 488.5,985.3 489.5,977.1 490.5,970.9 491.5,977.9 492.5,976.3 493.5,978.9 494.5,977.6 495.5,976.9 496.5,979.1 497.5,977.7 498.5,979.7 499.5,970.1 500.5,983.1 501.5,985.7 502.5,973.9 503.5,971.8 504.5,983.3 505.5,977.0 506.5,976.8 507.5,976.6 508.5,970.8 509.5,970.2 510.5,975.2 511.5,967.1 512.5,968.1 513.5,979.2 514.5,972.3 515.5,973.5 516.5,974.4 517.5,975.4 518.5,972.3 519.5,976.1 520.5,965.9 521.5,972.7 522.5,971.7 523.5,976.0 524.5,977.3 525.5,971.5 526.5,975.3 527.5,981.1 528.5,973.1 529.5,971.1 530.5,980.7 531.5,968.5 532.5,973.3 533.5,972.3 534.5,982.0 535.5,968.8 536.5,973.4 537.5,968.0 538.5,977.2 539.5,982.6 540.5,972.7 541.5,969.7 542.5,983.5 543.5,971.9 544.5,975.8 545.5,978.3 546.5,976.9 547.5,978.0 548.5,982.6 549.5,982.1 550.5,983.1 551.5,983.4 552.5,984.6 553.5,986.2 554.5,987.8 555.5,986.5 556.5,989.1 557.5,992.2 558.5,991.5 559.5,994.2 560.5,993.7 561.5,994.8 562.5,996.4 563.5,996.4 564.5,996.8 565.5,997.3 566.5,996.6 567.5,996.2 568.5,997.9 569.5,997.2 570.5,997.0 571.5,997.2 572.5,995.9 573.5,994.3 574.5,993.3 575.5,994.3 576.5,986.0 577.5,979.9 578.5,979.9 579.5,991.5 580.5,988.7 581.5,978.7 582.5,985.2 583.5,980.3 584.5,988.4 585.5,993.2 586.5,987.9 587.5,985.6 588.5,994.6 589.5,986.0 590.5,985.2 591.5,990.7 592.5,980.1 593.5,983.8 594.5,988.0 595.5,988.5 596.5,997.8 597.5,990.9 598.5,985.3 599.5,990.4 600.5,987.7 601.5,987.0 602.5,985.1 603.5,987.0 604.5,988.2 605.5,984.9 606.5,986.8 607.5,983.0 608.5,983.8 609.5,982.5 610.5,980.3 611.5,980.7 612.5,986.7 613.5,983.4 614.5,984.4 615.5,979.5 616.5,983.2 617.5,981.8 618.5,979.8 619.5,974.8 620.5,987.9 621.5,980.3 622.5,976.6 623.5,982.0 624.5,981.4 625.5,971.4 626.5,975.0 627.5,971.9 628.5,972.0 629.5,978.1 630.5,974.3 631.5,981.8 632.5,976.8 633.5,979.4 634.5,977.1 635.5,979.8 636.5,977.4 637.5,980.7 638.5,986.7 639.5,985.6 640.5,985.2 641.5,984.3 642.5,986.0 643.5,980.7 644.5,982.0 645.5,984.2 646.5,990.0 647.5,976.4 648.5,980.9 649.5,982.3 650.5,984.3 651.5,985.5 652.5,983.5 653.5,981.6 654.5,985.0 655.5,980.7 656.5,982.3 657.5,990.5 658.5,984.7 659.5,989.2 660.5,988.5 661.5,977.8 662.5,987.0 663.5,988.1 664.5,990.0 665.5,980.6 666.5,989.3 667.5,983.5 668.5,980.6 669.5,979.1 670.5,980.9 671.5,985.4 672.5,987.5 673.5,975.5 674.5,981.4 675.5,981.3 676.5,982.5 677.5,983.7 678.5,980.4 679.5,980.6 680.5,976.7 681.5,975.0 682.5,978.2 683.5,983.2 684.5,984.5 685.5,982.6 686.5,981.3 687.5,973.8 688.5,984.0 689.5,982.1 690.5,982.1 691.5,983.0 692.5,983.7 693.5,984.8 694.5,983.4 695.5,985.1 696.5,980.7 697.5,984.4 698.5,988.0 699.5,985.5 700.5,988.1 701.5,981.0 702.5,982.4 703.5,985.3 704.5,985.0 705.5,982.5 706.5,983.7 707.5,982.1 708.5,980.1 709.5,984.4 710.5,986.3 711.5,991.5 712.5,990.0 713.5,983.3 714.5,984.8 715.5,976.4 716.5,990.6 717.5,981.6 718.5,983.4 719.5,989.6 720.5,983.7 721.5,991.3 722.5,977.6 723.5,980.2 724.5,985.2 725.5,987.4 726.5,985.4 727.5,989.0 728.5,985.7 729.5,980.8 730.5,976.0 731.5,978.6 732.5,979.3 733.5,981.4 734.5,981.3 735.5,985.0 736.5,980.9 737.5,979.5 738.5,986.9 739.5,981.9 740.5,989.1 741.5,984.7 742.5,988.1 743.5,989.3 744.5,985.0 745.5,988.4 746.5,987.6 747.5,987.2 748.5,989.6 749.5,985.3 750.5,987.7 751.5,983.9 752.5,989.4 753.5,986.2 754.5,982.0 755.5,984.8 756.5,986.4 757.5,977.6 758.5,977.8 759.5,978.9 760.5,982.8 761.5,983.8 762.5,986.1 763.5,985.0 764.5,981.8 765.5,980.4 766.5,974.8 767.5,983.3 768.5,981.7 769.5,980.8 770.5,989.1 771.5,984.8 772.5,984.8 773.5,981.4 774.5,986.0 775.5,990.7 776.5,984.5 777.5,987.6 778.5,982.7 779.5,982.7 780.5,985.0 781.5,985.3 782.5,980.9 783.5,977.9 784.5,980.7 785.5,980.2 786.5,988.3 787.5,983.4 788.5,981.0 789.5,987.1 790.5,990.1 791.5,981.2 792.5,980.8 793.5,984.0 794.5,980.5 795.5,984.0 796.5,989.4 797.5,988.3 798.5,986.9 799.5,979.5 800.5,977.5 801.5,980.4 802.5,981.0 803.5,983.9 804.5,984.3 805.5,978.3 806.5,980.2 807.5,975.4 808.5,981.5 809.5,979.9 810.5,981.7 811.5,978.3 812.5,981.9 813.5,979.5 814.5,985.6 815.5,978.5 816.5,980.5 817.5,976.5 818.5,982.5 819.5,987.4 820.5,987.3 821.5,982.6 822.5,983.7 823.5,986.5 824.5,972.8 825.5,980.3 826.5,983.4 827.5,982.4 828.5,976.4 829.5,987.3 830.5,980.0 831.5,983.7 832.5,983.6 833.5,982.3 834.5,982.0 835.5,986.6 836.5,984.1 837.5,981.2 838.5,977.1 839.5,981.9 840.5,982.1 841.5,985.0 842.5,982.5 843.5,984.8 844.5,979.8 845.5,986.2 846.5,987.6 847.5,983.2 848.5,986.0 849.5,980.7 850.5,984.9 851.5,982.9 852.5,987.0 853.5,984.4 854.5,986.0 855.5,982.1 856.5,982.8 857.5,985.4 858.5,986.8 859.5,979.5 860.5,990.3 861.5,982.2 862.5,979.6 863.5,979.1 864.5,982.1 865.5,983.3 866.5,977.6 867.5,977.8 868.5,981.6 869.5,981.2 870.5,982.8 871.5,983.0 872.5,980.5 873.5,975.6 874.5,980.4 875.5,982.6 876.5,974.4 877.5,977.4 878.5,979.2 879.5,978.3 880.5,984.5 881.5,983.5 882.5,975.5 883.5,977.5 884.5,980.0 885.5,982.7 886.5,982.4 887.5,985.3 888.5,979.0 889.5,980.9 890.5,980.7 891.5,983.2 892.5,981.1 893.5,984.8 894.5,975.8 895.5,971.2 896.5,981.0 897.5,983.7 898.5,972.5 899.5,980.5 900.5,977.9 901.5,998.5 902.5,984.0 903.5,972.9 904.5,981.8 905.5,979.1 906.5,977.4 907.5,973.5 908.5,980.0 909.5,983.3 910.5,976.6 911.5,978.2 912.5,972.1 913.5,976.1 914.5,975.6 915.5,977.3 916.5,977.0 917.5,973.0 918.5,982.1 919.5,987.0 920.5,977.8 921.5,987.8 922.5,976.4 923.5,984.7 924.5,988.3 925.5,977.5 926.5,978.6 927.5,985.3 928.5,978.2 929.5,975.2 930.5,980.9 931.5,986.0 932.5,977.8 933.5,979.3 934.5,982.3 935.5,979.0 936.5,983.1 937.5,975.2 938.5,975.9 939.5,980.0 940.5,978.8 941.5,976.7 942.5,972.8 943.5,980.5 944.5,975.6 945.5,978.8 946.5,979.5 947.5,986.8 948.5,979.3 949.5,978.0 950.5,983.8 951.5,982.5 952.5,975.6 953.5,985.2 954.5,982.3 955.5,975.1 956.5,984.1 957.5,982.9 958.5,978.5 959.5,994.0 960.5,987.0 961.5,982.1 962.5,979.7 963.5,978.5 964.5,979.3 965.5,976.9 966.5,978.6 967.5,994.0 968.5,982.1 969.5,982.4 970.5,987.9 971.5,982.8 972.5,980.3 973.5,987.5 974.5,979.6 975.5,979.3 976.5,984.3 977.5,981.1 978.5,982.7 979.5,982.8 980.5,985.0 981.5,983.0 982.5,985.1 983.5,983.3 984.5,992.4 985.5,981.5 986.5,977.6 987.5,988.7 988.5,993.2 989.5,987.8 990.5,979.0 991.5,978.4 992.5,982.6 993.5,984.3 994.5,986.1 995.5,984.2 996.5,986.2 997.5,985.6 998.5,978.7 999.5,988.0 1000.5,985.7 1001.5,991.0 1002.5,982.8 1003.5,987.9 1004.5,988.2 1005.5,998.1 1006.5,991.9 1007.5,987.7 1008.5,993.1 1009.5,982.1 1010.5,987.0 1011.5,991.7 1012.5,994.0 1013.5,991.0 1014.5,984.5 1015.5,987.3 1016.5,985.0 1017.5,979.3 1018.5,978.0 1019.5,980.6 1020.5,984.2 1021.5,983.0 1022.5,985.2 1023.5,973.9 1024.5,974.5 1025.5,969.5 1026.5,973.4 1027.5,969.1 1028.5,981.5 1029.5,971.7 1030.5,975.9 1031.5,973.1 1032.5,977.2 1033.5,983.7 1034.5,976.2 1035.5,977.8 1036.5,971.8 1037.5,983.4 1038.5,987.4 1039.5,977.0 1040.5,976.7 1041.5,982.5 1042.5,978.2 1043.5,976.7 1044.5,972.8 1045.5,984.3 1046.5,981.9 1047.5,975.5 1048.5,978.2 1049.5,977.8 1050.5,969.4 1051.5,978.5 1052.5,986.5 1053.5,984.0 1054.5,978.3 1055.5,985.3 1056.5,984.2 1057.5,975.2 1058.5,978.1 1059.5,983.6 1060.5,974.4 1061.5,983.9 1062.5,978.3 1063.5,978.1 1064.5,976.9 1065.5,975.9 1066.5,983.1 1067.5,976.6 1068.5,975.9 1069.5,976.8 1070.5,976.1 1071.5,981.4 1072.5,989.5 1073.5,981.3 1074.5,988.5 1075.5,980.6 1076.5,980.1 1077.5,982.9 1078.5,979.0 1079.5,983.2 1080.5,983.9 1081.5,983.1 1082.5,981.8 1083.5,980.9 1084.5,983.7 1085.5,973.6 1086.5,984.1 1087.5,982.4 1088.5,978.5 1089.5,977.0 1090.5,986.4 1091.5,980.0 1092.5,981.7 1093.5,979.5 1094.5,982.5 1095.5,984.1 1096.5,984.7 1097.5,978.2 1098.5,981.2 1099.5,985.3 1100.5,979.6 1101.5,982.6 1102.5,984.4 1103.5,981.3 1104.5,981.8 1105.5,976.6 1106.5,989.3 1107.5,988.8 1108.5,987.8 1109.5,985.5 1110.5,974.2 1111.5,983.0 1112.5,979.4 1113.5,973.0 1114.5,984.3 1115.5,980.3 1116.5,978.4 1117.5,992.5 1118.5,980.7 1119.5,985.6 1120.5,979.6 1121.5,975.6 1122.5,980.0 1123.5,977.6 1124.5,986.4 1125.5,979.1 1126.5,987.9 1127.5,983.2 1128.5,982.8 1129.5,979.1 1130.5,980.5 1131.5,982.4 1132.5,980.7 1133.5,979.1 1134.5,979.5 1135.5,982.0 1136.5,982.4 1137.5,981.5 1138.5,986.8 1139.5,991.3 1140.5,983.8 1141.5,985.4 1142.5,986.5 1143.5,982.3 1144.5,990.8 1145.5,983.7 1146.5,986.2 1147.5,981.6 1148.5,980.4 1149.5,982.7 1150.5,984.1 1151.5,985.5 1152.5,980.6 1153.5,988.3 1154.5,982.0 1155.5,980.0 1156.5,982.3 1157.5,983.0 1158.5,988.6 1159.5,979.0 1160.5,984.5 1161.5,986.1 1162.5,981.2 1163.5,984.4 1164.5,981.6 1165.5,979.5 1166.5,985.8 1167.5,984.2 1168.5,989.3 1169.5,986.2 1170.5,978.8 1171.5,984.2 1172.5,981.7 1173.5,978.3 1174.5,976.8 1175.5,971.7 1176.5,979.8 1177.5,972.6 1178.5,979.4 1179.5,976.2 1180.5,977.0 1181.5,983.2 1182.5,981.9 1183.5,981.0 1184.5,988.0 1185.5,981.9 1186.5,986.9 1187.5,982.8 1188.5,986.2 1189.5,988.9 1190.5,988.2 1191.5,987.1 1192.5,984.4 1193.5,990.0 1194.5,989.5 1195.5,978.4 1196.5,976.1 1197.5,978.9 1198.5,977.3 1199.5,983.7 1200.5,987.1 1201.5,987.3 1202.5,977.4 1203.5,980.5 1204.5,979.0 1205.5,984.6 1206.5,978.0 1207.5,976.6 1208.5,975.3 1209.5,981.2 1210.5,976.2 1211.5,975.0 1212.5,975.1 1213.5,979.6 1214.5,977.6 1215.5,988.5 1216.5,986.6 1217.5,978.2 1218.5,979.1 1219.5,988.7 1220.5,982.9 1221.5,980.3 1222.5,987.3 1223.5,979.6 1224.5,987.5 1225.5,982.6 1226.5,974.1 1227.5,988.4 1228.5,978.4 1229.5,983.4 1230.5,980.1 1231.5,981.7 1232.5,976.8 1233.5,977.0 1234.5,972.5 1235.5,981.6 1236.5,981.5 1237.5,984.5 1238.5,976.5 1239.5,985.5 1240.5,977.7 1241.5,977.4 1242.5,973.0 1243.5,983.0 1244.5,979.5 1245.5,976.0 1246.5,975.3 1247.5,975.0 1248.5,980.6 1249.5,981.9 1250.5,978.9 1251.5,974.4 1252.5,971.4 1253.5,980.4 1254.5,977.3 1255.5,979.1 1256.5,976.7 1257.5,979.2 1258.5,976.6 1259.5,977.5 1260.5,979.6 1261.5,977.6 1262.5,976.9 1263.5,988.7 1264.5,980.9 1265.5,983.4 1266.5,976.7 1267.5,981.7 1268.5,983.8 1269.5,986.1 1270.5,989.0 1271.5,982.8 1272.5,985.3 1273.5,985.6 1274.5,980.2 1275.5,977.6 1276.5,985.1 1277.5,986.9 1278.5,981.1 1279.5,982.9 1280.5,981.0 1281.5,980.9 1282.5,983.0 1283.5,981.4 1284.5,976.6 1285.5,977.6 1286.5,981.3 1287.5,977.0 1288.5,979.8 1289.5,985.6 1290.5,986.0 1291.5,986.6 1292.5,983.4 1293.5,983.6 1294.5,986.8 1295.5,986.7 1296.5,981.2 1297.5,987.5 1298.5,979.1 1299.5,991.3 1300.5,983.5 1301.5,981.7 1302.5,980.4 1303.5,982.3 1304.5,981.0 1305.5,988.9 1306.5,979.2 1307.5,984.3 1308.5,981.8 1309.5,981.1 1310.5,978.2 1311.5,981.2 1312.5,980.1 1313.5,978.8 1314.5,974.0 1315.5,984.9 1316.5,977.8 1317.5,983.0 1318.5,979.3 1319.5,977.7 1320.5,974.2 1321.5,981.4 1322.5,981.1 1323.5,978.6 1324.5,979.1 1325.5,978.9 1326.5,980.1 1327.5,983.2 1328.5,979.6 1329.5,977.8 1330.5,986.9 1331.5,975.2 1332.5,968.6 1333.5,973.7 1334.5,984.5 1335.5,985.5 1336.5,986.1 1337.5,986.0 1338.5,981.6 1339.5,982.6 1340.5,986.2 1341.5,977.1 1342.5,979.4 1343.5,982.0 1344.5,983.6 1345.5,981.5 1346.5,977.6 1347.5,979.2 1348.5,981.2 1349.5,978.8 1350.5,969.0 1351.5,965.4 1352.5,985.2 1353.5,984.1 1354.5,979.7 1355.5,981.3 1356.5,979.6 1357.5,979.3 1358.5,973.8 1359.5,975.5 1360.5,980.2 1361.5,985.3 1362.5,981.1 1363.5,977.2 1364.5,982.8 1365.5,979.6 1366.5,985.2 1367.5,982.3 1368.5,983.0 1369.5,985.6 1370.5,988.6 1371.5,984.0 1372.5,984.2 1373.5,981.5 1374.5,992.5 1375.5,986.9 1376.5,979.8 1377.5,979.1 1378.5,981.3 1379.5,980.1 1380.5,978.2 1381.5,980.2 1382.5,985.6 1383.5,985.0 1384.5,985.6 1385.5,975.4 1386.5,981.2 1387.5,981.2 1388.5,987.9 1389.5,987.7 1390.5,982.9 1391.5,979.8 1392.5,982.8 1393.5,977.6 1394.5,979.7 1395.5,983.7 1396.5,979.7 1397.5,980.2 1398.5,977.4 1399.5,978.9 1400.5,976.3 1401.5,982.2 1402.5,969.0 1403.5,977.9 1404.5,975.4 1405.5,982.4 1406.5,983.9 1407.5,984.6 1408.5,978.3 1409.5,985.4 1410.5,987.8 1411.5,981.6 1412.5,984.0 1413.5,982.1 1414.5,987.5 1415.5,984.9 1416.5,986.4 1417.5,978.4 1418.5,976.6 1419.5,982.1 1420.5,977.8 1421.5,978.6 1422.5,986.6 1423.5,982.3 1424.5,982.9 1425.5,984.7 1426.5,976.9 1427.5,987.2 1428.5,991.8 1429.5,984.2 1430.5,985.9 1431.5,990.2 1432.5,982.7 1433.5,980.9 1434.5,984.6 1435.5,980.3 1436.5,985.3 1437.5,977.7 1438.5,980.7 1439.5,980.0 1440.5,977.7 1441.5,974.9 1442.5,984.2 1443.5,987.9 1444.5,980.2 1445.5,979.9 1446.5,981.7 1447.5,978.9 1448.5,986.8 1449.5,984.4 1450.5,982.3 1451.5,988.0 1452.5,982.9 1453.5,993.1 1454.5,992.1 1455.5,991.0 1456.5,985.6 1457.5,986.9 1458.5,985.0 1459.5,992.5 1460.5,985.0 1461.5,992.3 1462.5,988.9 1463.5,978.7 1464.5,981.8 1465.5,984.7 1466.5,979.8 1467.5,987.5 1468.5,982.4 1469.5,981.3 1470.5,980.9 1471.5,980.2 1472.5,983.4 1473.5,979.4 1474.5,981.3 1475.5,979.3 1476.5,974.6 1477.5,982.6 1478.5,991.1 1479.5,985.2 1480.5,981.7 1481.5,985.1 1482.5,976.5 1483.5,982.3 1484.5,975.5 1485.5,979.3 1486.5,978.5 1487.5,983.0 1488.5,972.6 1489.5,980.8 1490.5,980.5 1491.5,979.1 1492.5,978.1 1493.5,971.1 1494.5,979.0 1495.5,979.3 1496.5,982.5 1497.5,978.3 1498.5,985.3 1499.5,979.7 1500.5,975.7 1501.5,974.3 1502.5,985.4 1503.5,982.7 1504.5,983.9 1505.5,982.1 1506.5,984.6 1507.5,983.4 1508.5,986.2 1509.5,984.9 1510.5,983.4 1511.5,982.7 1512.5,983.3 1513.5,983.1 1514.5,980.3 1515.5,981.4 1516.5,982.3 1517.5,983.0 1518.5,973.8 1519.5,984.0 1520.5,981.8 1521.5,978.7 1522.5,980.4 1523.5,988.1 1524.5,985.0 1525.5,984.8 1526.5,990.5 1527.5,991.0 1528.5,985.4 1529.5,989.0 1530.5,984.8 1531.5,986.1 1532.5,983.1 1533.5,989.8 1534.5,990.0 1535.5,982.2 1536.5,987.1 1537.5,978.4 1538.5,987.0 1539.5,984.2 1540.5,981.6 1541.5,980.6 1542.5,986.7 1543.5,982.0 1544.5,987.9 1545.5,987.1 1546.5,983.6 1547.5,978.2 1548.5,986.4 1549.5,984.6 1550.5,983.3 1551.5,991.1 1552.5,987.6 1553.5,985.6 1554.5,984.8 1555.5,988.0 1556.5,989.2 1557.5,989.3 1558.5,996.2 1559.5,997.3 1560.5,993.7 1561.5,992.1 1562.5,982.0 1563.5,989.8 1564.5,982.7 1565.5,989.9 1566.5,982.7 1567.5,977.4 1568.5,975.5 1569.5,975.1 1570.5,973.7 1571.5,976.8 1572.5,977.5 1573.5,977.0 1574.5,971.3 1575.5,977.9 1576.5,976.8 1577.5,975.5 1578.5,980.2 1579.5,976.4 1580.5,981.3 1581.5,980.5 1582.5,987.8 1583.5,984.5 1584.5,975.2 1585.5,980.0 1586.5,986.5 1587.5,988.2 1588.5,984.8 1589.5,989.5 1590.5,987.5 1591.5,987.5 1592.5,990.3 1593.5,985.9 1594.5,990.9 1595.5,989.3 1596.5,991.6 1597.5,992.1 1598.5,986.1 1599.5,983.9 1600.5,980.7 1601.5,985.6 1602.5,992.4 1603.5,990.7 1604.5,985.6 1605.5,985.5 1606.5,985.4 1607.5,985.3 1608.5,986.7 1609.5,988.3 1610.5,983.5 1611.5,987.9 1612.5,977.7 1613.5,980.3 1614.5,981.9 1615.5,990.1 1616.5,983.7 1617.5,981.0 1618.5,980.7 1619.5,980.9 1620.5,978.2 1621.5,980.8 1622.5,983.5 1623.5,982.4 1624.5,984.0 1625.5,977.7 1626.5,985.3 1627.5,990.0 1628.5,979.4 1629.5,987.8 1630.5,983.7 1631.5,996.4 1632.5,997.6 1633.5,981.3 1634.5,985.4 1635.5,989.5 1636.5,989.3 1637.5,981.6 1638.5,980.2 1639.5,982.7 1640.5,985.3 1641.5,980.9 1642.5,985.2 1643.5,984.1 1644.5,983.3 1645.5,981.4 1646.5,984.4 1647.5,979.6 1648.5,979.8 1649.5,978.1 1650.5,984.5 1651.5,976.3 1652.5,982.9 1653.5,977.1 1654.5,984.2 1655.5,982.3 1656.5,981.0 1657.5,986.5 1658.5,981.2 1659.5,979.9 1660.5,975.8 1661.5,983.3 1662.5,975.7 1663.5,977.4 1664.5,983.9 1665.5,991.7 1666.5,990.4 1667.5,990.6 1668.5,981.5 1669.5,993.6 1670.5,991.4 1671.5,983.7 1672.5,988.0 1673.5,987.2 1674.5,981.6 1675.5,991.2 1676.5,990.2 1677.5,983.6 1678.5,983.8 1679.5,983.6 1680.5,988.6 1681.5,983.7 1682.5,982.9 1683.5,987.7 1684.5,983.7 1685.5,984.6 1686.5,989.5 1687.5,984.9 1688.5,989.1 1689.5,988.3 1690.5,988.1 1691.5,993.6 1692.5,993.8 1693.5,988.7 1694.5,991.8 1695.5,974.0 1696.5,982.4 1697.5,981.0 1698.5,987.8 1699.5,984.5 1700.5,984.4 1701.5,985.7 1702.5,985.2 1703.5,985.9 1704.5,989.9 1705.5,982.8 1706.5,983.7 1707.5,985.8 1708.5,979.7 1709.5,987.7 1710.5,983.9 1711.5,985.8 1712.5,981.2 1713.5,983.5 1714.5,988.0 1715.5,980.7 1716.5,987.7 1717.5,987.5 1718.5,984.4 1719.5,983.0 1720.5,988.1 1721.5,987.5 1722.5,983.8 1723.5,986.1 1724.5,977.5 1725.5,981.4 1726.5,979.0 1727.5,983.3 1728.5,987.7 1729.5,982.4 1730.5,986.3 1731.5,987.3 1732.5,984.7 1733.5,985.6 1734.5,987.6 1735.5,987.2 1736.5,987.2 1737.5,989.2 1738.5,986.7 1739.5,990.7 1740.5,992.6 1741.5,985.7 1742.5,989.5 1743.5,986.8 1744.5,992.5 1745.5,987.5 1746.5,993.4 1747.5,984.6 1748.5,989.2 1749.5,985.2 1750.5,982.9 1751.5,980.9 1752.5,990.5 1753.5,986.3 1754.5,980.8 1755.5,983.0 1756.5,986.1 1757.5,983.9 1758.5,986.5 1759.5,984.6 1760.5,993.4 1761.5,989.8 1762.5,996.5 1763.5,992.4 1764.5,987.2 1765.5,987.1 1766.5,988.8 1767.5,981.9 1768.5,993.3 1769.5,985.1 1770.5,980.3 1771.5,990.2 1772.5,977.8 1773.5,979.1 1774.5,984.7 1775.5,978.5 1776.5,980.3 1777.5,983.9 1778.5,980.3 1779.5,974.1 1780.5,976.6 1781.5,981.5 1782.5,977.2 1783.5,979.3 1784.5,976.8 1785.5,977.1 1786.5,979.0 1787.5,976.1 1788.5,979.6 1789.5,981.7 1790.5,984.3 1791.5,988.0 1792.5,979.4 1793.5,982.8 1794.5,983.6 1795.5,987.2 1796.5,987.5 1797.5,982.2 1798.5,982.6 1799.5,991.7 1800.5,981.0 1801.5,981.3 1802.5,983.0 1803.5,981.2 1804.5,985.8 1805.5,985.9 1806.5,983.2 1807.5,981.4 1808.5,986.8 1809.5,983.0 1810.5,985.8 1811.5,981.3 1812.5,977.9 1813.5,990.5 1814.5,1016.5"/>
<polyline fill="none" stroke="#00ff00" stroke-width="1" points="15.5,1016.5 16.5,1015.7 17.5,1011.7 18.5,1013.6 19.5,1017.2 20.5,1015.2 21.5,1011.5 22.5,1015.4 23.5,1011.5 24.5,1011.0 25.5,1014.4 26.5,1014.2 27.5,1014.8 28.5,1015.0 29.5,1015.3 30.5,1016.4 31.5,1013.5 32.5,1014.0 33.5,1013.4 34.5,1012.5 35.5,1012.7 36.5,1014.5 37.5,1014.3 38.5,1016.5 39.5,1014.3 40.5,1011.9 41.5,1011.5 42.5,1015.4 43.5,1016.8 44.5,1015.1 45.5,1015.4 46.5,1013.3 47.5,1012.5 48.5,1013.2 49.5,1009.9 50.5,1014.2 51.5,1011.0 52.5,1010.2 53.5,1010.6 54.5,1015.5 55.5,1015.1 56.5,1015.1 57.5,1015.2 58.5,1015.3 59.5,1016.0 60.5,1015.3 61.5,1015.8 62.5,1011.3 63.5,1011.7 64.5,1016.7 65.5,1015.0 66.5,1015.4 67.5,1012.4 68.5,1013.3 69.5,1012.6 70.5,1015.7 71.5,1012.0 72.5,1013.6 73.5,1016.6 74.5,1012.7 75.5,1011.8 76.5,1015.1 77.5,1014.9 78.5,1014.5 79.5,1013.8 80.5,1014.7 81.5,1016.5 82.5,1015.4 83.5,1013.6 84.5,1013.5 85.5,1013.6 86.5,1014.8 87.5,1011.0 88.5,1014.6 89.5,1013.5 90.5,1015.3 91.5,1018.1 92.5,1015.2 93.5,1013.9 94.5,1014.1 95.5,1015.9 96.5,1012.4 97.5,1015.5 98.5,1016.9 99.5,1013.9 100.5,1015.3 101.5,1016.2 102.5,1012.0 103.5,1014.3 104.5,1017.7 105.5,1015.9 106.5,1014.6 107.5,1016.1 108.5,1013.9 109.5,1015.8 110.5,1013.9 111.5,1014.6 112.5,1015.4 113.5,1015.4 114.5,1012.7 115.5,1016.2 116.5,1015.7 117.5,1014.4 118.5,1012.3 119.5,1012.5 120.5,1016.7 121.5,1011.1 122.5,1016.3 123.5,1015.1 124.5,1015.0 125.5,1016.2 126.5,1017.0 127.5,1013.2 128.5,1017.1 129.5,1016.9 130.5,1014.1 131.5,1011.1 132.5,1015.3 133.5,1014.3 134.5,1015.7 135.5,1014.3 136.5,1016.0 137.5,1013.3 138.5,1015.6 139.5,1011.0 140.5,1015.7 141.5,1014.1 142.5,1014.2 143.5,1017.3 144.5,1014.6 145.5,1013.9 146.5,1012.1 147.5,1009.2 148.5,1012.7 149.5,1014.1 150.5,1015.6 151.5,1011.6 152.5,996.5 153.5,1012.2 154.5,974.5 155.5,1011.6 156.5,1014.1 157.5,1012.6 158.5,1010.2 159.5,1009.5 160.5,1011.7 161.5,1015.7 162.5,1015.1 163.5,1016.0 164.5,1014.9 165.5,1015.2 166.5,1015.9 167.5,1017.1 168.5,1010.9 169.5,1011.6 170.5,1014.5 171.5,1014.5 172.5,1015.1 173.5,1014.1 174.5,1015.9 175.5,1010.7 176.5,1012.5 177.5,1010.8 178.5,1011.7 179.5,1015.0 180.5,1009.7 181.5,1015.8 182.5,1014.3 183.5,1010.0 184.5,1014.7 185.5,1015.6 186.5,1016.5 187.5,1014.0 188.5,1013.6 189.5,1016.8 190.5,1017.3 191.5,1022.7 192.5,1016.4 193.5,1009.2 194.5,1011.7 195.5,1010.4 196.5,1011.9 197.5,1012.9 198.5,1011.7 199.5,1009.3 200.5,1012.7 201.5,1008.4 202.5,1010.0 203.5,1010.2 204.5,1010.8 205.5,1011.6 206.5,1016.2 207.5,1012.3 208.5,1007.2 209.5,1006.8 210.5,1012.3 211.5,1007.0 212.5,1015.1 213.5,1006.4 214.5,1011.5 215.5,1015.2 216.5,1013.0 217.5,1015.9 218.5,1014.0 219.5,1010.1 220.5,1012.6 221.5,1012.4 222.5,1013.4 223.5,1014.6 224.5,1009.9 225.5,1008.2 226.5,1012.9 227.5,1006.6 228.5,1010.5 229.5,1014.6 230.5,1010.7 231.5,1010.9 232.5,1010.4 233.5,1006.7 234.5,1007.8 235.5,1008.5 236.5,1003.4 237.5,1011.4 238.5,1010.1 239.5,1016.2 240.5,1012.5 241.5,1009.8 242.5,1004.1 243.5,1003.3 244.5,1009.3 245.5,1003.8 246.5,1005.4 247.5,1008.9 248.5,1009.6 249.5,1013.5 250.5,1011.3 251.5,1002.7 252.5,998.4 253.5,990.5 254.5,995.8 255.5,996.5 256.5,1001.8 257.5,1005.3 258.5,1006.6 259.5,1007.3 260.5,1005.4 261.5,1006.7 262.5,1009.8 263.5,1009.4 264.5,1009.3 265.5,1009.8 266.5,1007.5 267.5,1011.0 268.5,1010.7 269.5,1009.6 270.5,1008.9 271.5,1009.3 272.5,1010.4 273.5,1016.7 274.5,1010.5 275.5,1012.4 276.5,1007.0 277.5,1011.3 278.5,1014.5 279.5,1012.4 280.5,1012.5 281.5,1011.8 282.5,1009.1 283.5,1011.2 284.5,1017.1 285.5,1014.1 286.5,1012.8 287.5,1014.5 288.5,1015.0 289.5,1016.7 290.5,1014.0 291.5,1016.1 292.5,1012.7 293.5,1012.4 294.5,1014.8 295.5,1012.6 296.5,1015.9 297.5,1016.5 298.5,1015.9 299.5,1013.9 300.5,1015.1 301.5,1010.8 302.5,1016.5 303.5,1011.4 304.5,1010.7 305.5,1013.3 306.5,1013.1 307.5,1013.7 308.5,1009.5 309.5,1014.1 310.5,1013.3 311.5,1012.8 312.5,1016.3 313.5,1013.1 314.5,1012.4 315.5,1014.1 316.5,1014.6 317.5,1012.6 318.5,1013.6 319.5,1012.8 320.5,1014.1 321.5,1013.3 322.5,1014.3 323.5,1010.5 324.5,1011.9 325.5,1011.7 326.5,1014.6 327.5,1015.1 328.5,1014.4 329.5,1011.4 330.5,1013.4 331.5,1013.5 332.5,1015.0 333.5,1017.0 334.5,1012.4 335.5,1016.2 336.5,1014.5 337.5,1013.7 338.5,1013.7 339.5,1015.2 340.5,1010.9 341.5,1014.2 342.5,1014.4 343.5,1016.3 344.5,1013.0 345.5,1010.1 346.5,1013.9 347.5,1014.1 348.5,1017.5 349.5,1015.0 350.5,1014.8 351.5,1014.3 352.5,1014.2 353.5,1012.8 354.5,1014.9 355.5,1013.2 356.5,1015.4 357.5,1015.3 358.5,1012.6 359.5,1016.2 360.5,1012.8 361.5,1011.1 362.5,1013.5 363.5,1011.7 364.5,1007.5 365.5,1011.4 366.5,1013.8 367.5,1012.9 368.5,1008.9 369.5,1012.2 370.5,1010.8 371.5,1011.5 372.5,1013.9 373.5,1010.2 374.5,1010.9 375.5,1008.9 376.5,1007.2 377.5,1011.7 378.5,1017.4 379.5,1013.2 380.5,1011.9 381.5,1003.5 382.5,1007.2 383.5,1012.2 384.5,1017.4 385.5,1010.8 386.5,1010.3 387.5,1012.5 388.5,1013.3 389.5,1014.0 390.5,1013.0 391.5,1011.2 392.5,1015.4 393.5,1015.2 394.5,1013.9 395.5,1013.8 396.5,1015.8 397.5,1010.8 398.5,1015.7 399.5,1014.0 400.5,1013.4 401.5,1013.1 402.5,1009.5 403.5,1015.1 404.5,1012.7 405.5,1012.2 406.5,1014.3 407.5,1015.4 408.5,1011.3 409.5,1013.2 410.5,1015.1 411.5,1012.4 412.5,1013.9 413.5,1014.2 414.5,1012.8 415.5,1014.4 416.5,1010.6 417.5,1012.2 418.5,1015.6 419.5,1014.3 420.5,1017.9 421.5,1015.7 422.5,1013.9 423.5,1017.0 424.5,1007.8 425.5,1014.3 426.5,1014.4 427.5,1013.5 428.5,1014.9 429.5,1012.7 430.5,1008.4 431.5,1011.4 432.5,1009.8 433.5,1010.8 434.5,1009.8 435.5,1012.9 436.5,1014.1 437.5,1007.6 438.5,1013.9 439.5,1012.2 440.5,1007.2 441.5,1007.5 442.5,1011.1 443.5,1013.4 444.5,1011.6 445.5,1013.3 446.5,1010.8 447.5,1012.2 448.5,1009.7 449.5,1011.6 450.5,1010.8 451.5,1011.3 452.5,1012.6 453.5,1011.1 454.5,1013.3 455.5,1012.7 456.5,1011.3 457.5,1010.6 458.5,1012.0 459.5,1011.8 460.5,1011.4 461.5,1010.6 462.5,1010.4 463.5,1009.8 464.5,1011.6 465.5,1010.2 466.5,1013.0 467.5,1015.3 468.5,1008.3 469.5,1011.2 470.5,1010.6 471.5,1008.9 472.5,1013.0 473.5,1010.2 474.5,1011.9 475.5,1007.8 476.5,1008.5 477.5,1010.1 478.5,1013.1 479.5,1005.6 480.5,1010.7 481.5,1013.2 482.5,1008.2 483.5,1015.2 484.5,1009.4 485.5,1013.1 486.5,1011.2 487.5,1012.2 488.5,1010.9 489.5,1009.0 490.5,1013.4 491.5,1012.3 492.5,1013.5 493.5,1012.9 494.5,1012.8 495.5,1014.0 496.5,1013.0 497.5,1012.4 498.5,1011.1 499.5,1010.7 500.5,1010.7 501.5,1009.5 502.5,1012.7 503.5,1014.2 504.5,1012.1 505.5,1011.1 506.5,1007.0 507.5,1008.6 508.5,1009.7 509.5,1011.2 510.5,1011.5 511.5,1009.4 512.5,1009.1 513.5,1009.0 514.5,1009.5 515.5,1010.5 516.5,1009.5 517.5,1009.3 518.5,1006.5 519.5,1005.6 520.5,1009.5 521.5,1011.2 522.5,1006.1 523.5,1009.3 524.5,1008.6 525.5,1009.9 526.5,1008.8 527.5,1009.9 528.5,1011.0 529.5,1010.8 530.5,1010.0 531.5,1008.4 532.5,1007.4 533.5,1012.9 534.5,1014.0 535.5,1015.0 536.5,1012.8 537.5,1017.8 538.5,1017.9 539.5,1015.0 540.5,1013.0 541.5,1012.3 542.5,1016.3 543.5,1014.4 544.5,1013.7 545.5,1011.0 546.5,1010.2 547.5,1013.8 548.5,1014.3 549.5,1012.9 550.5,1012.9 551.5,1014.9 552.5,1015.8 553.5,1017.1 554.5,1014.5 555.5,1014.6 556.5,1016.5 557.5,1013.1 558.5,1012.5 559.5,1013.2 560.5,1013.5 561.5,1014.5 562.5,1010.4 563.5,1014.6 564.5,1012.7 565.5,1011.3 566.5,1010.8 567.5,1012.2 568.5,1016.0 569.5,1010.9 570.5,1012.9 571.5,1014.6 572.5,1012.7 573.5,1013.1 574.5,1014.6 575.5,1013.0 576.5,1011.4 577.5,1015.7 578.5,1013.8 579.5,1015.8 580.5,1012.8 581.5,1012.3 582.5,1009.2 583.5,1012.1 584.5,1012.8 585.5,1011.3 586.5,1009.1 587.5,1010.3 588.5,1011.5 589.5,1012.0 590.5,1014.7 591.5,1012.8 592.5,1012.2 593.5,1012.0 594.5,1008.1 595.5,1012.2 596.5,1010.2 597.5,995.5 598.5,1008.3 599.5,998.5 600.5,1010.0 601.5,1006.8 602.5,1009.8 603.5,1009.7 604.5,1010.7 605.5,1008.6 606.5,1007.9 607.5,1006.8 608.5,1009.1 609.5,1007.3 610.5,1005.9 611.5,1010.3 612.5,1009.8 613.5,1011.6 614.5,1006.1 615.5,1018.3 616.5,1008.3 617.5,1009.7 618.5,1009.2 619.5,1005.3 620.5,1003.9 621.5,1007.7 622.5,1008.4 623.5,1006.7 624.5,1010.7 625.5,990.5 626.5,1013.1 627.5,1013.1 628.5,1010.5 629.5,1013.3 630.5,1011.9 631.5,1009.5 632.5,1014.1 633.5,1012.5 634.5,1011.1 635.5,1013.3 636.5,1012.2 637.5,1014.8 638.5,1012.7 639.5,1013.5 640.5,1015.1 641.5,1012.6 642.5,1017.7 643.5,1011.9 644.5,1010.1 645.5,1015.6 646.5,1014.5 647.5,993.5 648.5,1010.4 649.5,1012.5 650.5,1010.8 651.5,1012.0 652.5,1013.2 653.5,1008.2 654.5,1014.0 655.5,1007.7 656.5,1009.9 657.5,1009.8 658.5,1012.5 659.5,994.5 660.5,1007.7 661.5,1011.1 662.5,1008.1 663.5,1011.9 664.5,1010.0 665.5,1009.7 666.5,1006.8 667.5,1010.6 668.5,1012.9 669.5,1010.5 670.5,1012.2 671.5,1018.8 672.5,1015.1 673.5,1015.3 674.5,1011.0 675.5,1012.8 676.5,1014.1 677.5,1010.9 678.5,1010.1 679.5,1007.6 680.5,1004.7 681.5,1010.9 682.5,1012.2 683.5,1010.9 684.5,1001.3 685.5,1000.0 686.5,1006.4 687.5,986.5 688.5,994.9 689.5,999.4 690.5,998.8 691.5,965.5 692.5,1009.7 693.5,973.5 694.5,1001.5 695.5,1000.2 696.5,1000.3 697.5,1008.4 698.5,1013.7 699.5,980.3 700.5,1002.3 701.5,1009.0 702.5,1012.9 703.5,1010.0 704.5,1007.5 705.5,989.5 706.5,1000.0 707.5,987.8 708.5,1008.8 709.5,993.5 710.5,1007.8 711.5,970.5 712.5,1003.3 713.5,971.5 714.5,1002.8 715.5,998.6 716.5,1005.4 717.5,988.5 718.5,999.4 719.5,965.5 720.5,1004.0 721.5,1005.2 722.5,995.3 723.5,1008.1 724.5,1015.5 725.5,1014.0 726.5,1009.7 727.5,1011.2 728.5,1012.0 729.5,1013.1 730.5,1011.3 731.5,1010.6 732.5,1012.7 733.5,1012.1 734.5,1013.6 735.5,1010.3 736.5,1013.2 737.5,1017.6 738.5,1011.4 739.5,1014.7 740.5,1010.9 741.5,1011.9 742.5,1012.1 743.5,1011.1 744.5,1011.1 745.5,1010.9 746.5,1011.0 747.5,1008.1 748.5,997.1 749.5,992.0 750.5,993.3 751.5,992.5 752.5,989.3 753.5,989.4 754.5,997.9 755.5,988.5 756.5,998.8 757.5,998.5 758.5,1000.8 759.5,993.1 760.5,1000.5 761.5,970.5 762.5,1002.5 763.5,969.5 764.5,989.1 765.5,1001.9 766.5,1000.0 767.5,988.5 768.5,1002.8 769.5,991.5 770.5,1013.9 771.5,1005.7 772.5,1004.8 773.5,1006.4 774.5,1013.6 775.5,1008.4 776.5,1010.4 777.5,1009.1 778.5,1012.0 779.5,1012.1 780.5,1009.8 781.5,1007.4 782.5,1010.8 783.5,1010.6 784.5,1012.7 785.5,1008.3 786.5,1009.0 787.5,1014.1 788.5,1010.5 789.5,1012.7 790.5,1011.9 791.5,1010.1 792.5,1009.1 793.5,1009.8 794.5,1010.1 795.5,1011.3 796.5,1010.9 797.5,1012.0 798.5,1010.7 799.5,1012.6 800.5,1008.5 801.5,1001.5 802.5,1009.7 803.5,1011.5 804.5,1014.0 805.5,1008.3 806.5,1008.9 807.5,1012.9 808.5,1012.6 809.5,989.5 810.5,1011.8 811.5,1009.0 812.5,1009.9 813.5,1011.5 814.5,1012.8 815.5,1012.8 816.5,1012.7 817.5,1018.0 818.5,1016.1 819.5,1013.1 820.5,1012.8 821.5,1012.4 822.5,1011.4 823.5,1011.7 824.5,1006.9 825.5,1010.1 826.5,1010.4 827.5,1012.2 828.5,1018.9 829.5,1015.7 830.5,1013.3 831.5,1011.7 832.5,1015.1 833.5,1012.3 834.5,1012.7 835.5,1010.3 836.5,1013.4 837.5,1011.1 838.5,1014.4 839.5,1010.6 840.5,1014.5 841.5,1010.7 842.5,1011.9 843.5,1011.7 844.5,1009.6 845.5,986.5 846.5,1012.6 847.5,1009.5 848.5,1014.0 849.5,1010.0 850.5,1010.4 851.5,1013.9 852.5,1013.0 853.5,1015.3 854.5,1009.8 855.5,1013.9 856.5,1009.8 857.5,1014.4 858.5,1010.4 859.5,1011.7 860.5,1012.4 861.5,1012.4 862.5,1013.9 863.5,1009.0 864.5,1008.6 865.5,1009.7 866.5,1012.5 867.5,1012.6 868.5,1011.6 869.5,1006.7 870.5,1007.6 871.5,1007.2 872.5,1009.7 873.5,1010.8 874.5,1012.2 875.5,1008.2 876.5,1011.5 877.5,1012.6 878.5,1009.9 879.5,1009.9 880.5,1008.7 881.5,1009.0 882.5,1009.5 883.5,1011.0 884.5,1008.3 885.5,1009.8 886.5,1007.9 887.5,1011.3 888.5,1003.4 889.5,1009.6 890.5,1011.4 891.5,1006.6 892.5,1008.1 893.5,1010.0 894.5,1009.4 895.5,1012.8 896.5,1012.9 897.5,1007.3 898.5,1006.1 899.5,1008.3 900.5,1009.8 901.5,1009.8 902.5,1010.1 903.5,1012.7 904.5,1006.4 905.5,1009.9 906.5,1007.1 907.5,1010.3 908.5,1010.0 909.5,1009.1 910.5,1008.3 911.5,1010.7 912.5,1010.7 913.5,1008.7 914.5,1009.7 915.5,1003.9 916.5,1003.5 917.5,1015.1 918.5,1007.9 919.5,1011.6 920.5,997.4 921.5,1013.0 922.5,1011.7 923.5,1000.8 924.5,1005.4 925.5,989.5 926.5,1000.9 927.5,1002.7 928.5,998.2 929.5,1003.3 930.5,1009.4 931.5,1007.4 932.5,1001.0 933.5,996.6 934.5,1013.5 935.5,1015.3 936.5,1009.3 937.5,1001.0 938.5,1004.8 939.5,994.7 940.5,1014.5 941.5,1009.0 942.5,1009.1 943.5,1004.5 944.5,997.8 945.5,987.5 946.5,997.6 947.5,1007.0 948.5,999.7 949.5,1007.2 950.5,1003.2 951.5,1010.9 952.5,1018.3 953.5,1013.3 954.5,1013.0 955.5,1012.6 956.5,1014.0 957.5,1014.1 958.5,1009.8 959.5,1012.9 960.5,1010.6 961.5,1014.1 962.5,1012.6 963.5,1013.7 964.5,1014.2 965.5,1015.1 966.5,1013.3 967.5,1013.3 968.5,1014.7 969.5,1016.1 970.5,1014.2 971.5,1015.9 972.5,1016.0 973.5,1012.9 974.5,1016.1 975.5,1020.4 976.5,1016.9 977.5,1010.0 978.5,1011.2 979.5,1012.9 980.5,1009.1 981.5,1009.6 982.5,1020.0 983.5,1009.5 984.5,1007.6 985.5,1005.9 986.5,1006.1 987.5,1015.4 988.5,1006.4 989.5,1005.4 990.5,1009.4 991.5,1008.1 992.5,1010.5 993.5,1012.3 994.5,1013.4 995.5,1013.6 996.5,1003.1 997.5,1011.2 998.5,1006.4 999.5,1009.8 1000.5,1006.7 1001.5,1002.1 1002.5,1012.6 1003.5,1001.5 1004.5,1004.2 1005.5,1016.4 1006.5,1008.3 1007.5,1007.4 1008.5,1005.5 1009.5,1003.2 1010.5,1010.7 1011.5,1012.7 1012.5,1009.5 1013.5,1011.0 1014.5,1004.3 1015.5,1008.4 1016.5,1008.7 1017.5,1006.0 1018.5,1008.5 1019.5,1008.0 1020.5,1009.5 1021.5,1009.1 1022.5,1012.2 1023.5,1012.2 1024.5,1009.7 1025.5,1009.0 1026.5,1009.7 1027.5,1009.6 1028.5,1011.7 1029.5,1012.1 1030.5,1011.4 1031.5,1008.0 1032.5,1008.9 1033.5,1008.0 1034.5,1010.8 1035.5,1010.9 1036.5,1013.2 1037.5,1009.6 1038.5,1013.6 1039.5,1013.3 1040.5,1011.5 1041.5,1011.2 1042.5,1016.0 1043.5,1013.1 1044.5,1012.9 1045.5,1014.0 1046.5,1013.2 1047.5,1013.4 1048.5,1013.2 1049.5,1013.3 1050.5,1013.7 1051.5,1010.0 1052.5,1009.9 1053.5,1011.9 1054.5,1009.5 1055.5,1012.6 1056.5,1009.8 1057.5,1012.2 1058.5,1012.2 1059.5,1008.6 1060.5,1012.0 1061.5,1013.0 1062.5,1009.0 1063.5,1010.2 1064.5,1012.7 1065.5,1010.0 1066.5,1014.1 1067.5,1012.8 1068.5,1006.1 1069.5,1010.6 1070.5,1012.2 1071.5,1009.5 1072.5,1009.6 1073.5,1012.7 1074.5,1006.5 1075.5,1001.5 1076.5,1013.4 1077.5,1007.9 1078.5,1008.8 1079.5,1004.6 1080.5,1007.5 1081.5,1008.9 1082.5,1007.8 1083.5,1006.4 1084.5,1014.7 1085.5,1012.6 1086.5,1011.8 1087.5,1005.8 1088.5,1007.5 1089.5,1006.7 1090.5,1011.1 1091.5,1005.8 1092.5,1008.9 1093.5,1014.6 1094.5,1009.6 1095.5,1013.1 1096.5,1008.2 1097.5,1012.0 1098.5,1008.7 1099.5,1007.1 1100.5,1009.7 1101.5,1007.8 1102.5,1007.5 1103.5,1009.4 1104.5,1009.6 1105.5,1007.9 1106.5,1013.5 1107.5,1012.3 1108.5,1007.7 1109.5,1006.8 1110.5,1009.9 1111.5,1004.7 1112.5,1008.0 1113.5,1011.0 1114.5,1012.0 1115.5,1011.6 1116.5,1011.2 1117.5,1004.5 1118.5,1004.7 1119.5,1009.9 1120.5,1008.2 1121.5,1012.4 1122.5,1013.8 1123.5,1011.9 1124.5,1012.2 1125.5,1016.4 1126.5,1014.7 1127.5,1011.1 1128.5,1014.4 1129.5,1016.3 1130.5,1012.1 1131.5,1013.6 1132.5,1011.9 1133.5,1009.3 1134.5,1012.9 1135.5,1012.9 1136.5,1011.9 1137.5,1010.0 1138.5,1013.1 1139.5,1012.5 1140.5,1013.9 1141.5,1012.5 1142.5,1012.8 1143.5,1012.6 1144.5,1013.5 1145.5,1012.4 1146.5,1014.1 1147.5,1013.3 1148.5,1013.6 1149.5,1015.7 1150.5,1015.6 1151.5,1013.9 1152.5,1012.5 1153.5,1013.4 1154.5,1012.2 1155.5,1010.0 1156.5,1015.8 1157.5,1012.2 1158.5,1013.0 1159.5,1012.8 1160.5,1011.8 1161.5,1012.1 1162.5,1014.0 1163.5,1013.8 1164.5,1012.6 1165.5,1012.7 1166.5,1016.0 1167.5,1012.1 1168.5,1012.0 1169.5,1014.5 1170.5,1016.2 1171.5,1015.1 1172.5,1014.7 1173.5,1013.1 1174.5,1013.7 1175.5,1015.0 1176.5,1015.2 1177.5,1015.8 1178.5,1011.7 1179.5,1014.5 1180.5,1014.2 1181.5,1012.3 1182.5,1011.6 1183.5,1012.5 1184.5,1011.8 1185.5,1011.6 1186.5,1012.1 1187.5,1012.5 1188.5,1008.4 1189.5,1013.1 1190.5,1014.0 1191.5,1014.5 1192.5,1013.5 1193.5,1014.2 1194.5,1011.2 1195.5,1010.4 1196.5,1014.5 1197.5,1014.6 1198.5,1008.8 1199.5,1015.0 1200.5,1011.3 1201.5,1015.1 1202.5,1015.1 1203.5,1013.2 1204.5,1012.2 1205.5,1012.8 1206.5,1007.5 1207.5,1014.1 1208.5,1012.4 1209.5,1012.6 1210.5,1009.7 1211.5,1015.1 1212.5,1014.0 1213.5,1013.8 1214.5,1012.3 1215.5,1012.2 1216.5,1010.1 1217.5,1015.2 1218.5,1012.9 1219.5,1014.6 1220.5,1013.9 1221.5,1012.9 1222.5,1014.0 1223.5,1013.3 1224.5,1014.4 1225.5,1014.7 1226.5,1012.7 1227.5,1014.5 1228.5,1015.0 1229.5,1010.6 1230.5,1012.0 1231.5,1011.5 1232.5,1011.9 1233.5,1014.1 1234.5,1014.2 1235.5,1014.5 1236.5,1013.8 1237.5,1012.4 1238.5,1013.4 1239.5,1001.5 1240.5,1014.4 1241.5,1018.1 1242.5,1013.5 1243.5,1016.9 1244.5,1013.3 1245.5,1012.2 1246.5,1013.8 1247.5,1015.4 1248.5,1012.2 1249.5,1012.3 1250.5,1012.0 1251.5,1015.9 1252.5,1013.9 1253.5,1014.2 1254.5,1015.5 1255.5,1014.9 1256.5,1015.9 1257.5,1012.9 1258.5,1014.1 1259.5,1011.8 1260.5,1014.6 1261.5,1013.3 1262.5,1013.7 1263.5,1014.3 1264.5,1010.9 1265.5,1010.9 1266.5,1013.0 1267.5,1012.5 1268.5,1012.8 1269.5,1006.7 1270.5,1015.2 1271.5,1012.3 1272.5,1013.8 1273.5,1015.0 1274.5,1010.5 1275.5,1012.4 1276.5,1015.5 1277.5,1012.4 1278.5,1014.6 1279.5,1014.1 1280.5,1012.7 1281.5,1011.7 1282.5,1012.0 1283.5,1012.2 1284.5,1014.8 1285.5,1016.4 1286.5,1010.0 1287.5,1013.1 1288.5,1012.6 1289.5,1012.5 1290.5,1015.2 1291.5,1012.5 1292.5,1011.9 1293.5,1014.1 1294.5,1013.4 1295.5,1015.3 1296.5,1014.7 1297.5,1011.5 1298.5,1014.0 1299.5,1014.1 1300.5,1014.0 1301.5,1015.8 1302.5,1017.2 1303.5,1012.3 1304.5,1012.8 1305.5,1013.7 1306.5,1015.4 1307.5,1012.8 1308.5,1012.5 1309.5,1009.9 1310.5,1014.1 1311.5,1013.3 1312.5,1012.3 1313.5,1015.6 1314.5,1015.3 1315.5,1015.5 1316.5,1012.8 1317.5,1013.2 1318.5,1012.6 1319.5,1015.4 1320.5,1013.6 1321.5,1012.7 1322.5,1011.4 1323.5,1014.5 1324.5,1011.7 1325.5,1014.4 1326.5,1015.7 1327.5,1012.1 1328.5,1010.2 1329.5,1012.5 1330.5,1006.7 1331.5,1011.9 1332.5,1012.6 1333.5,1016.0 1334.5,1016.0 1335.5,1014.1 1336.5,1015.0 1337.5,1013.8 1338.5,1013.4 1339.5,1014.0 1340.5,1015.2 1341.5,1012.7 1342.5,1013.8 1343.5,1012.1 1344.5,1008.2 1345.5,1012.1 1346.5,1013.9 1347.5,1013.4 1348.5,1012.7 1349.5,1012.4 1350.5,1011.5 1351.5,1014.0 1352.5,1011.8 1353.5,1014.4 1354.5,1014.0 1355.5,1012.8 1356.5,1012.8 1357.5,1010.9 1358.5,1013.4 1359.5,1015.4 1360.5,1013.5 1361.5,1006.8 1362.5,1013.8 1363.5,1012.6 1364.5,1011.9 1365.5,1012.9 1366.5,1015.3 1367.5,1013.8 1368.5,1013.2 1369.5,1015.2 1370.5,1011.2 1371.5,1012.1 1372.5,1014.1 1373.5,1015.6 1374.5,1012.4 1375.5,1012.9 1376.5,1011.1 1377.5,1010.1 1378.5,1012.3 1379.5,1010.8 1380.5,1016.7 1381.5,1013.6 1382.5,1014.4 1383.5,1016.7 1384.5,1013.7 1385.5,1011.9 1386.5,1012.0 1387.5,1012.6 1388.5,1014.5 1389.5,1014.7 1390.5,1012.7 1391.5,1014.0 1392.5,1013.8 1393.5,1011.4 1394.5,1015.3 1395.5,1015.2 1396.5,1014.2 1397.5,1013.2 1398.5,1013.5 1399.5,1012.9 1400.5,1012.0 1401.5,1010.3 1402.5,1010.8 1403.5,1012.5 1404.5,1006.7 1405.5,1013.8 1406.5,1010.0 1407.5,1013.6 1408.5,1015.2 1409.5,1014.4 1410.5,1012.7 1411.5,1012.1 1412.5,1011.6 1413.5,1015.8 1414.5,1014.0 1415.5,1012.2 1416.5,1014.8 1417.5,1013.0 1418.5,1013.2 1419.5,1013.7 1420.5,1013.2 1421.5,1012.8 1422.5,1013.8 1423.5,1013.3 1424.5,1012.4 1425.5,1010.9 1426.5,1012.4 1427.5,1011.9 1428.5,1012.1 1429.5,1012.4 1430.5,1010.3 1431.5,1013.5 1432.5,1009.4 1433.5,1009.0 1434.5,1011.7 1435.5,1010.6 1436.5,1013.3 1437.5,1014.4 1438.5,1013.1 1439.5,1014.7 1440.5,1013.5 1441.5,1012.2 1442.5,1012.7 1443.5,1013.7 1444.5,1014.1 1445.5,1013.5 1446.5,1013.5 1447.5,1015.2 1448.5,1013.1 1449.5,1013.7 1450.5,1011.4 1451.5,1016.7 1452.5,1015.2 1453.5,1008.6 1454.5,1014.7 1455.5,1010.1 1456.5,1014.9 1457.5,1013.5 1458.5,1014.5 1459.5,1013.4 1460.5,1014.3 1461.5,1011.6 1462.5,1016.8 1463.5,1015.4 1464.5,1016.2 1465.5,1013.5 1466.5,1010.0 1467.5,1009.3 1468.5,1013.1 1469.5,1011.6 1470.5,1011.9 1471.5,1013.9 1472.5,1016.7 1473.5,1014.2 1474.5,1012.4 1475.5,1012.9 1476.5,1013.5 1477.5,1016.9 1478.5,1013.8 1479.5,1014.1 1480.5,1014.3 1481.5,1011.2 1482.5,1016.2 1483.5,1013.9 1484.5,1013.2 1485.5,1013.0 1486.5,1012.7 1487.5,1011.9 1488.5,1013.4 1489.5,1011.8 1490.5,1016.2 1491.5,1014.6 1492.5,1014.7 1493.5,1015.0 1494.5,1017.1 1495.5,1012.3 1496.5,1014.7 1497.5,1014.3 1498.5,1017.0 1499.5,1013.4 1500.5,1015.0 1501.5,1015.3 1502.5,1013.9 1503.5,1013.1 1504.5,1013.3 1505.5,1011.1 1506.5,1012.4 1507.5,1015.0 1508.5,1011.4 1509.5,1009.2 1510.5,1015.0 1511.5,1012.5 1512.5,1014.0 1513.5,1010.2 1514.5,1010.4 1515.5,1012.5 1516.5,1015.1 1517.5,1015.5 1518.5,1009.6 1519.5,1012.8 1520.5,1012.2 1521.5,1010.4 1522.5,1017.1 1523.5,1015.3 1524.5,1012.2 1525.5,1013.8 1526.5,1016.1 1527.5,1013.5 1528.5,1012.0 1529.5,1012.9 1530.5,1012.3 1531.5,1013.9 1532.5,1016.0 1533.5,1011.2 1534.5,1013.9 1535.5,1013.9 1536.5,1014.6 1537.5,1011.7 1538.5,1013.2 1539.5,1015.1 1540.5,1016.6 1541.5,1015.7 1542.5,1008.5 1543.5,1010.8 1544.5,1015.6 1545.5,1015.1 1546.5,1014.9 1547.5,1014.5 1548.5,1010.5 1549.5,1009.6 1550.5,1016.8 1551.5,1011.0 1552.5,1013.8 1553.5,1013.0 1554.5,1012.2 1555.5,1012.5 1556.5,1015.5 1557.5,1015.0 1558.5,1015.9 1559.5,1013.6 1560.5,1012.4 1561.5,1013.9 1562.5,1013.1 1563.5,1014.2 1564.5,1015.4 1565.5,1013.5 1566.5,1014.0 1567.5,1013.4 1568.5,1012.3 1569.5,1014.1 1570.5,1012.3 1571.5,1014.5 1572.5,1013.3 1573.5,1011.9 1574.5,1016.6 1575.5,1014.0 1576.5,1012.1 1577.5,1017.5 1578.5,1012.4 1579.5,1011.7 1580.5,1013.9 1581.5,1010.2 1582.5,1013.9 1583.5,1010.5 1584.5,1013.1 1585.5,1013.2 1586.5,1013.9 1587.5,1014.3 1588.5,1010.9 1589.5,1018.1 1590.5,1016.6 1591.5,1014.1 1592.5,1011.5 1593.5,1012.7 1594.5,1011.7 1595.5,1011.5 1596.5,1014.6 1597.5,1014.4 1598.5,1013.1 1599.5,1017.4 1600.5,1014.3 1601.5,1013.2 1602.5,1014.9 1603.5,1010.8 1604.5,1013.3 1605.5,1015.7 1606.5,1011.6 1607.5,1013.7 1608.5,1014.2 1609.5,1011.8 1610.5,1013.9 1611.5,1014.1 1612.5,1012.7 1613.5,1015.0 1614.5,1014.3 1615.5,1012.4 1616.5,1013.0 1617.5,1012.9 1618.5,1016.2 1619.5,1010.2 1620.5,1014.5 1621.5,1015.5 1622.5,1015.0 1623.5,1014.2 1624.5,1013.2 1625.5,1015.6 1626.5,1012.9 1627.5,1012.4 1628.5,1011.3 1629.5,1014.0 1630.5,1012.9 1631.5,1014.2 1632.5,1014.2 1633.5,1011.6 1634.5,1014.8 1635.5,1013.1 1636.5,1012.7 1637.5,1016.7 1638.5,1014.8 1639.5,1012.5 1640.5,1012.8 1641.5,1014.9 1642.5,1013.0 1643.5,1015.1 1644.5,1007.5 1645.5,1011.3 1646.5,1015.1 1647.5,1015.4 1648.5,1014.9 1649.5,1013.5 1650.5,1012.9 1651.5,1017.4 1652.5,1011.4 1653.5,1013.1 1654.5,1015.2 1655.5,1014.5 1656.5,1013.5 1657.5,1010.7 1658.5,1012.2 1659.5,1013.1 1660.5,1017.2 1661.5,1014.4 1662.5,1013.6 1663.5,1011.4 1664.5,1019.2 1665.5,1013.3 1666.5,1015.3 1667.5,1015.1 1668.5,1018.4 1669.5,1013.5 1670.5,1013.4 1671.5,1011.0 1672.5,1012.4 1673.5,1015.6 1674.5,1015.3 1675.5,995.5 1676.5,1014.9 1677.5,1015.8 1678.5,1017.5 1679.5,1015.4 1680.5,1011.5 1681.5,1014.1 1682.5,1013.1 1683.5,1015.1 1684.5,1015.1 1685.5,1012.2 1686.5,1013.5 1687.5,1013.9 1688.5,1014.6 1689.5,1007.7 1690.5,1013.1 1691.5,1010.6 1692.5,1013.6 1693.5,1014.1 1694.5,1016.5 1695.5,1015.7 1696.5,1014.2 1697.5,1014.3 1698.5,1013.3 1699.5,1011.2 1700.5,1010.6 1701.5,1013.4 1702.5,1017.6 1703.5,1012.2 1704.5,1011.8 1705.5,1014.2 1706.5,1010.7 1707.5,1015.0 1708.5,1012.7 1709.5,1013.7 1710.5,1016.5 1711.5,1013.4 1712.5,1014.4 1713.5,1011.5 1714.5,1017.2 1715.5,1012.1 1716.5,1013.8 1717.5,1013.7 1718.5,1011.3 1719.5,1016.3 1720.5,1011.5 1721.5,1012.9 1722.5,1014.4 1723.5,1013.7 1724.5,1012.8 1725.5,1015.9 1726.5,1012.3 1727.5,1012.0 1728.5,1012.5 1729.5,1014.6 1730.5,1012.7 1731.5,1014.4 1732.5,1013.5 1733.5,1013.6 1734.5,1016.9 1735.5,1012.8 1736.5,1013.9 1737.5,1012.7 1738.5,1011.1 1739.5,1014.1 1740.5,1011.3 1741.5,1012.8 1742.5,1014.0 1743.5,1012.5 1744.5,1015.5 1745.5,1017.2 1746.5,1014.1 1747.5,1014.4 1748.5,1012.1 1749.5,1012.9 1750.5,1014.6 1751.5,1012.0 1752.5,1012.6 1753.5,1012.7 1754.5,1011.1 1755.5,1015.5 1756.5,1014.2 1757.5,1012.4 1758.5,1012.6 1759.5,1011.6 1760.5,1014.0 1761.5,1008.8 1762.5,1010.7 1763.5,1010.4 1764.5,1008.8 1765.5,1008.3 1766.5,1007.9 1767.5,1004.5 1768.5,1007.7 1769.5,1008.8 1770.5,1008.6 1771.5,1004.7 1772.5,1009.9 1773.5,1009.9 1774.5,1009.0 1775.5,1006.4 1776.5,1009.7 1777.5,1005.7 1778.5,1007.6 1779.5,1003.1 1780.5,1011.5 1781.5,1008.1 1782.5,1006.7 1783.5,1010.8 1784.5,1006.3 1785.5,1008.6 1786.5,1010.3 1787.5,1011.3 1788.5,1013.3 1789.5,1008.6 1790.5,1012.3 1791.5,1011.3 1792.5,1010.0 1793.5,1014.0 1794.5,1011.8 1795.5,1009.0 1796.5,1015.0 1797.5,1012.5 1798.5,1013.4 1799.5,1013.0 1800.5,1011.0 1801.5,1013.1 1802.5,1011.9 1803.5,1012.3 1804.5,1013.1 1805.5,1016.5 1806.5,1012.2 1807.5,1013.7 1808.5,1012.5 1809.5,1013.8 1810.5,1013.8 1811.5,1014.3 1812.5,1012.7 1813.5,1009.8 1814.5,1021.5"/>
</svg>
<div class="yt" style="top:1023px"></div>
<div class="yl" style="top:1025px;left:1px"><span>0</span></div>
<div class="yt" style="top:921px"></div>
<div class="yl" style="top:934px;left:1px"><span>423</span></div>
<div class="yt" style="top:818px"></div>
<div class="yl" style="top:831px;left:1px"><span>846</span></div>
<div class="yt" style="top:716px"></div>
<div class="yl" style="top:734px;left:1px"><span>1269</span></div>
<div class="yt" style="top:614px"></div>
<div class="yl" style="top:632px;left:1px"><span>1693</span></div>
<div class="yt" style="top:512px"></div>
<div class="yl" style="top:530px;left:1px"><span>2116</span></div>
<div class="yt" style="top:409px"></div>
<div class="yl" style="top:427px;left:1px"><span>2539</span></div>
<div class="yt" style="top:307px"></div>
<div class="yl" style="top:325px;left:1px"><span>2963</span></div>
<div class="yt" style="top:205px"></div>
<div class="yl" style="top:223px;left:1px"><span>3386</span></div>
<div class="yt" style="top:102px"></div>
<div class="yl" style="top:120px;left:1px"><span>3809</span></div>
<div class="yt" style="top:0px"></div>
<div class="yl" style="top:25px;left:1px"><span>4233</span></div>
<div class="xt" style="left:133px"></div>
<div class="xl" style="left:115px">14:01</div>
<div class="xt" style="left:253px"></div>
<div class="xl" style="left:235px">14:02</div>
<div class="xt" style="left:373px"></div>
<div class="xl" style="left:355px">14:03</div>
<div class="xt" style="left:493px"></div>
<div class="xl" style="left:475px">14:04</div>
<div class="xt" style="left:613px"></div>
<div class="xl" style="left:595px">14:05</div>
<div class="xt" style="left:733px"></div>
<div class="xl" style="left:715px">14:06</div>
<div class="xt" style="left:853px"></div>
<div class="xl" style="left:835px">14:07</div>
<div class="xt" style="left:973px"></div>
<div class="xl" style="left:955px">14:08</div>
<div class="xt" style="left:1093px"></div>
<div class="xl" style="left:1075px">14:09</div>
<div class="xt" style="left:1213px"></div>
<div class="xl" style="left:1195px">14:10</div>
<div class="xt" style="left:1333px"></div>
<div class="xl" style="left:1315px">14:11</div>
<div class="xt" style="left:1453px"></div>
<div class="xl" style="left:1435px">14:12</div>
<div class="xt" style="left:1573px"></div>
<div class="xl" style="left:1555px">14:13</div>
<div class="xt" style="left:1693px"></div>
<div class="xl" style="left:1675px">14:14</div>
<div class="xt" style="left:1813px"></div>
<div class="xl" style="left:1795px">14:15</div>
</body></html>
